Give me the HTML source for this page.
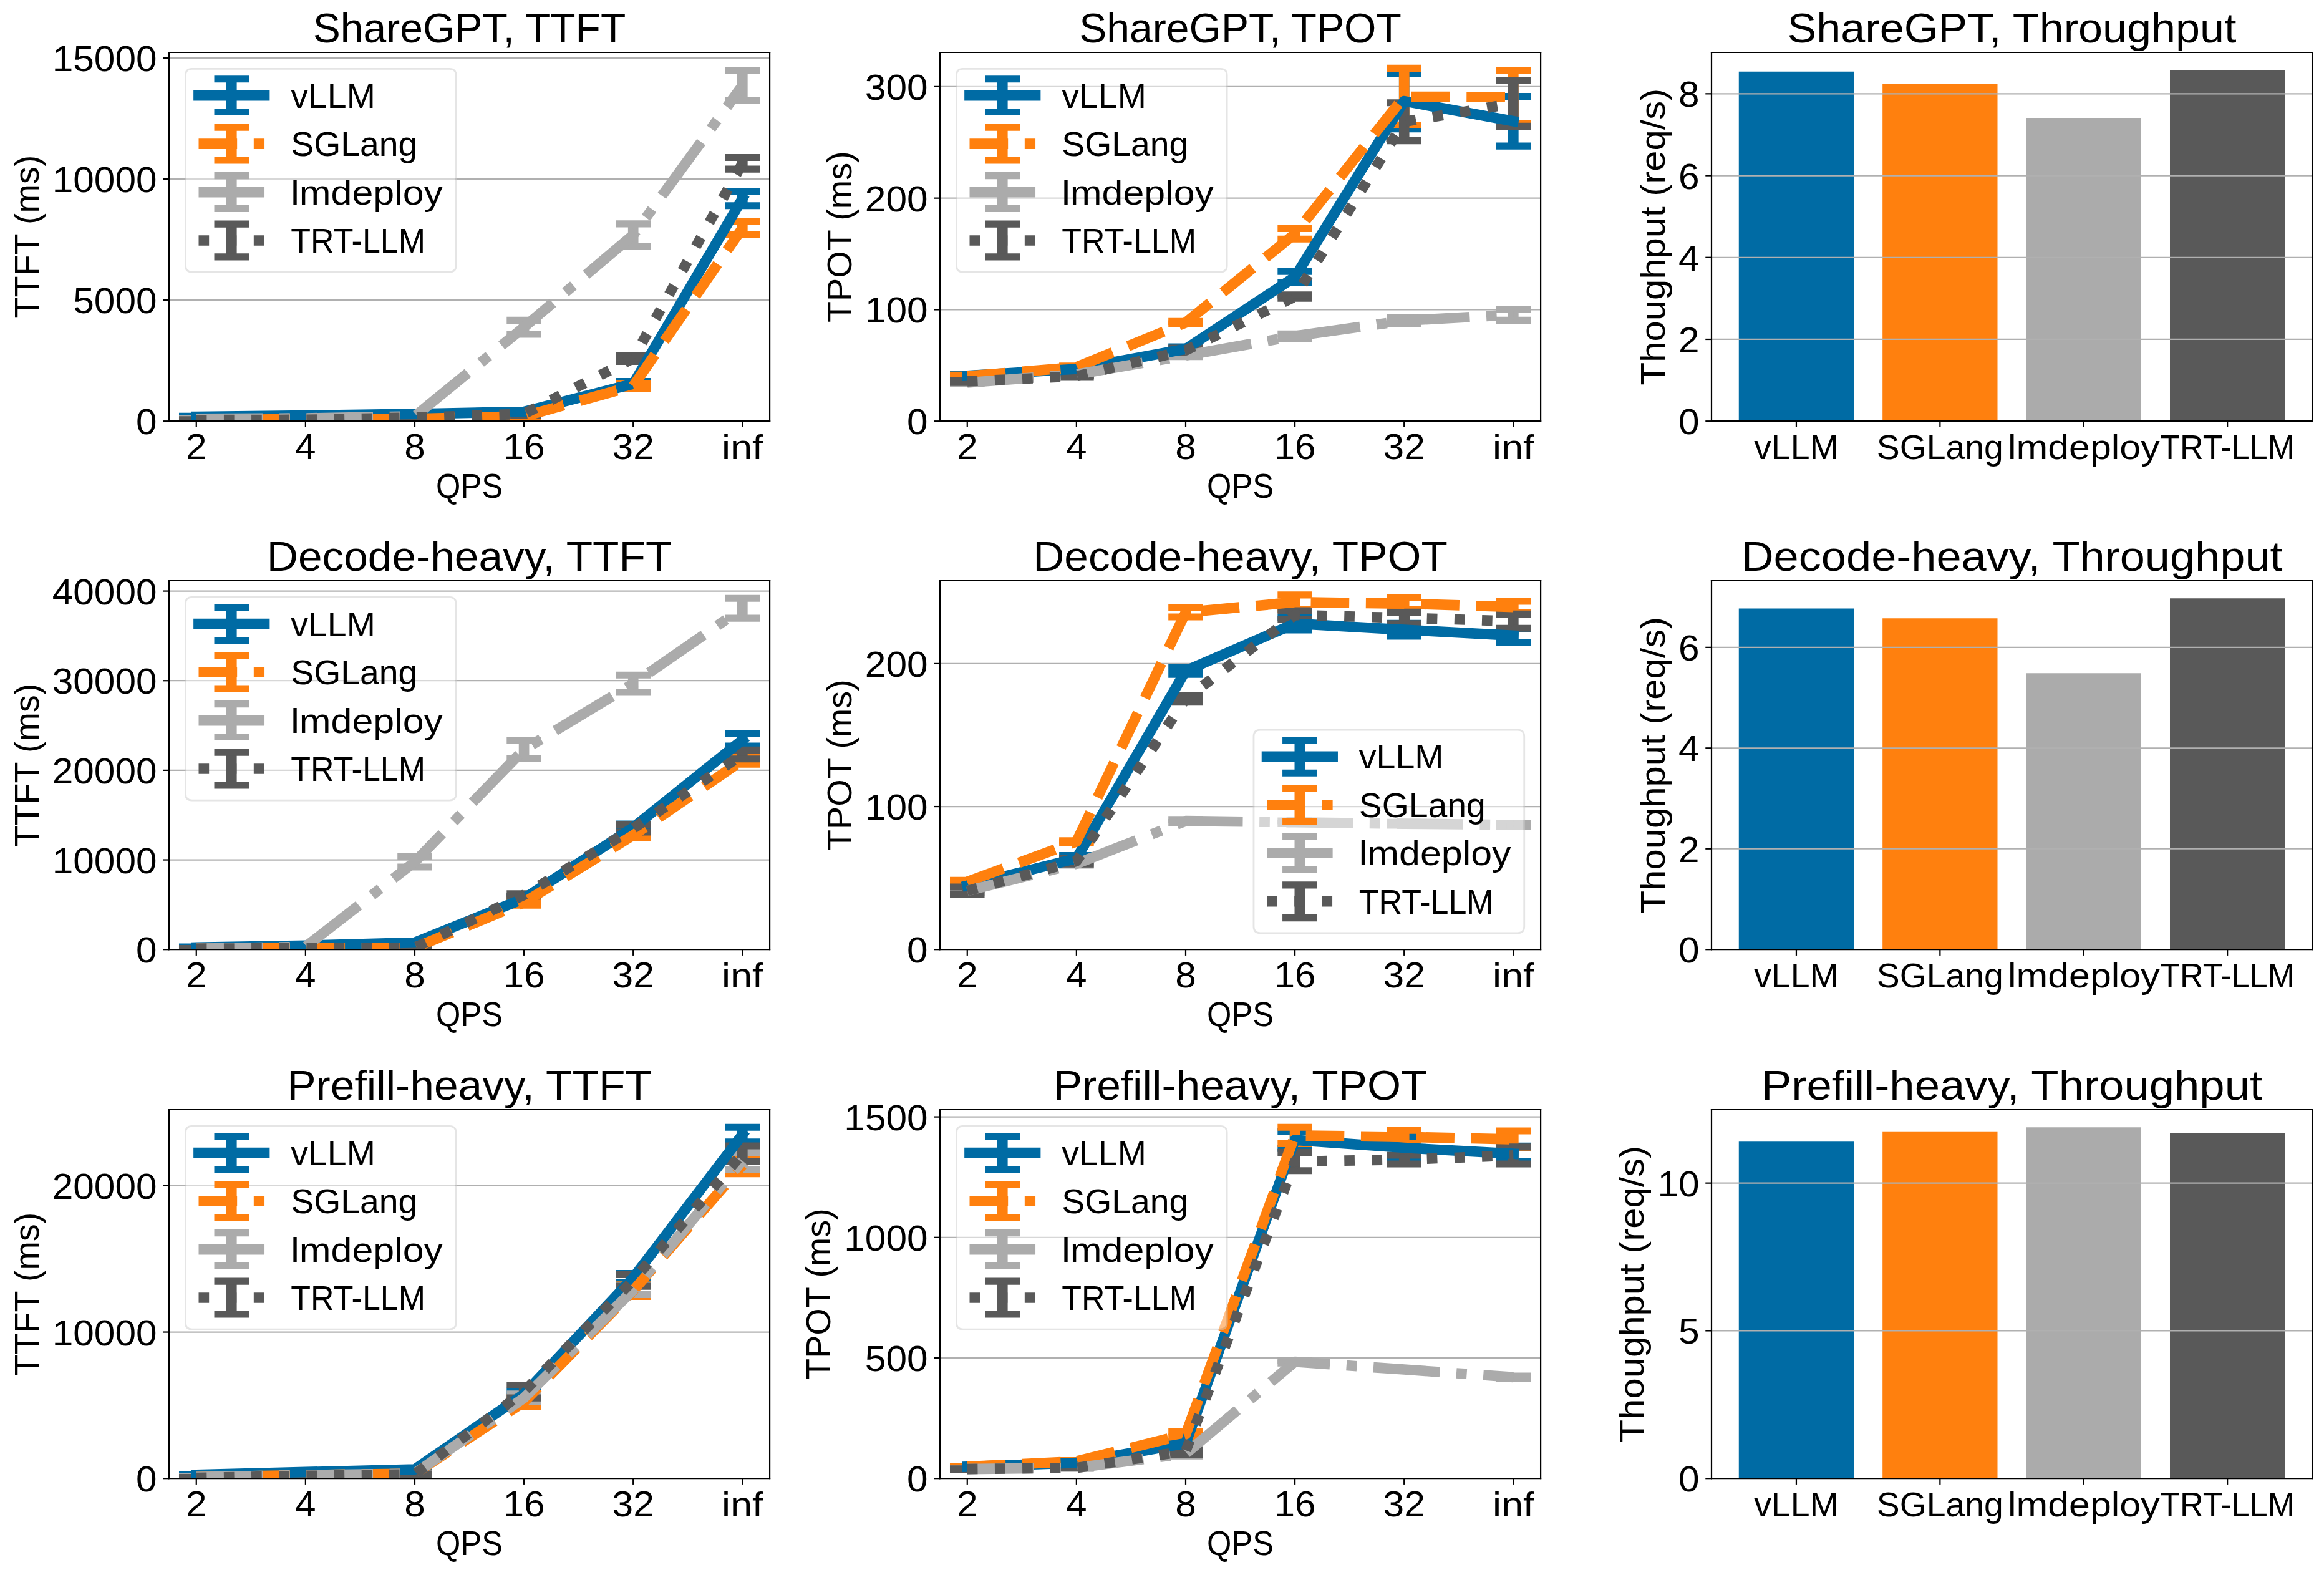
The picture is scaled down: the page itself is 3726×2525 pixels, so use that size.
<!DOCTYPE html>
<html><head><meta charset="utf-8"><title>Benchmark figure</title><style>html,body{margin:0;padding:0;background:#fff;width:3726px;height:2525px;overflow:hidden}svg{display:block}</style></head><body>
<svg width="3726" height="2525" viewBox="0 0 1341.36 909" >
<defs>
<style type="text/css">*{stroke-linejoin: round; stroke-linecap: butt}</style>
</defs>
<g id="figure_1">
<g id="patch_1">
<path d="M 0 909 L 1341.36 909 L 1341.36 0 L 0 0 z
" style="fill: #ffffff"/>
</g>
<g id="axes_1">
<g id="patch_2">
<path d="M 97.56 243.072 L 444.276 243.072 L 444.276 30.24 L 97.56 30.24 z
" style="fill: #ffffff"/>
</g>
<g id="matplotlib.axis_1">
<g id="xtick_1">
<g id="line2d_1">
<defs>
<path id="m877f683ac1" d="M 0 0 L 0 3.5 " style="stroke: #000000; stroke-width: 0.8"/>
</defs>
<g>
<use href="#m877f683ac1" x="113.319818" y="243.072" style="stroke: #000000; stroke-width: 0.8"/>
</g>
</g>
<g id="text_1">
<text style='font-size: 20.710px; font-family: "Liberation Sans", sans-serif; text-anchor: middle' x="113.319818" y="264.8690" transform="rotate(-0 113.319818 264.509031)" textLength="12.088" lengthAdjust="spacingAndGlyphs">2</text>
</g>
</g>
<g id="xtick_2">
<g id="line2d_2">
<g>
<use href="#m877f683ac1" x="176.359091" y="243.072" style="stroke: #000000; stroke-width: 0.8"/>
</g>
</g>
<g id="text_2">
<text style='font-size: 20.710px; font-family: "Liberation Sans", sans-serif; text-anchor: middle' x="176.359091" y="264.8690" transform="rotate(-0 176.359091 264.509031)" textLength="12.088" lengthAdjust="spacingAndGlyphs">4</text>
</g>
</g>
<g id="xtick_3">
<g id="line2d_3">
<g>
<use href="#m877f683ac1" x="239.398364" y="243.072" style="stroke: #000000; stroke-width: 0.8"/>
</g>
</g>
<g id="text_3">
<text style='font-size: 20.710px; font-family: "Liberation Sans", sans-serif; text-anchor: middle' x="239.398364" y="264.8690" transform="rotate(-0 239.398364 264.509031)" textLength="12.088" lengthAdjust="spacingAndGlyphs">8</text>
</g>
</g>
<g id="xtick_4">
<g id="line2d_4">
<g>
<use href="#m877f683ac1" x="302.437636" y="243.072" style="stroke: #000000; stroke-width: 0.8"/>
</g>
</g>
<g id="text_4">
<text style='font-size: 20.710px; font-family: "Liberation Sans", sans-serif; text-anchor: middle' x="302.437636" y="264.8690" transform="rotate(-0 302.437636 264.509031)" textLength="24.176" lengthAdjust="spacingAndGlyphs">16</text>
</g>
</g>
<g id="xtick_5">
<g id="line2d_5">
<g>
<use href="#m877f683ac1" x="365.476909" y="243.072" style="stroke: #000000; stroke-width: 0.8"/>
</g>
</g>
<g id="text_5">
<text style='font-size: 20.710px; font-family: "Liberation Sans", sans-serif; text-anchor: middle' x="365.476909" y="264.8690" transform="rotate(-0 365.476909 264.509031)" textLength="24.176" lengthAdjust="spacingAndGlyphs">32</text>
</g>
</g>
<g id="xtick_6">
<g id="line2d_6">
<g>
<use href="#m877f683ac1" x="428.516182" y="243.072" style="stroke: #000000; stroke-width: 0.8"/>
</g>
</g>
<g id="text_6">
<text style='font-size: 20.140px; font-family: "Liberation Sans", sans-serif; text-anchor: middle' x="428.516182" y="264.8690" transform="rotate(-0 428.516182 264.509031)" textLength="24.008" lengthAdjust="spacingAndGlyphs">inf</text>
</g>
</g>
<g id="text_7">
<text style='font-size: 20.140px; font-family: "Liberation Sans", sans-serif; text-anchor: middle' x="270.918" y="287.2575" transform="rotate(-0 270.918 286.897469)" textLength="38.469" lengthAdjust="spacingAndGlyphs">QPS</text>
</g>
</g>
<g id="matplotlib.axis_2">
<g id="ytick_1">
<g id="line2d_7">
<path d="M 97.56 243.072 L 444.276 243.072 " clip-path="url(#pd88fbe1b18)" style="fill: none; stroke: #b0b0b0; stroke-width: 0.8; stroke-linecap: square"/>
</g>
<g id="line2d_8">
<defs>
<path id="m7abbb79476" d="M 0 0 L -3.5 0 " style="stroke: #000000; stroke-width: 0.8"/>
</defs>
<g>
<use href="#m7abbb79476" x="97.56" y="243.072" style="stroke: #000000; stroke-width: 0.8"/>
</g>
</g>
<g id="text_8">
<text style='font-size: 20.710px; font-family: "Liberation Sans", sans-serif; text-anchor: end' x="90.56" y="250.6505" transform="rotate(-0 90.56 250.290516)" textLength="12.088" lengthAdjust="spacingAndGlyphs">0</text>
</g>
</g>
<g id="ytick_2">
<g id="line2d_9">
<path d="M 97.56 173.208555 L 444.276 173.208555 " clip-path="url(#pd88fbe1b18)" style="fill: none; stroke: #b0b0b0; stroke-width: 0.8; stroke-linecap: square"/>
</g>
<g id="line2d_10">
<g>
<use href="#m7abbb79476" x="97.56" y="173.208555" style="stroke: #000000; stroke-width: 0.8"/>
</g>
</g>
<g id="text_9">
<text style='font-size: 20.710px; font-family: "Liberation Sans", sans-serif; text-anchor: end' x="90.56" y="180.7871" transform="rotate(-0 90.56 180.42707)" textLength="48.347" lengthAdjust="spacingAndGlyphs">5000</text>
</g>
</g>
<g id="ytick_3">
<g id="line2d_11">
<path d="M 97.56 103.345109 L 444.276 103.345109 " clip-path="url(#pd88fbe1b18)" style="fill: none; stroke: #b0b0b0; stroke-width: 0.8; stroke-linecap: square"/>
</g>
<g id="line2d_12">
<g>
<use href="#m7abbb79476" x="97.56" y="103.345109" style="stroke: #000000; stroke-width: 0.8"/>
</g>
</g>
<g id="text_10">
<text style='font-size: 20.710px; font-family: "Liberation Sans", sans-serif; text-anchor: end' x="90.56" y="110.9236" transform="rotate(-0 90.56 110.563625)" textLength="60.429" lengthAdjust="spacingAndGlyphs">10000</text>
</g>
</g>
<g id="ytick_4">
<g id="line2d_13">
<path d="M 97.56 33.481664 L 444.276 33.481664 " clip-path="url(#pd88fbe1b18)" style="fill: none; stroke: #b0b0b0; stroke-width: 0.8; stroke-linecap: square"/>
</g>
<g id="line2d_14">
<g>
<use href="#m7abbb79476" x="97.56" y="33.481664" style="stroke: #000000; stroke-width: 0.8"/>
</g>
</g>
<g id="text_11">
<text style='font-size: 20.710px; font-family: "Liberation Sans", sans-serif; text-anchor: end' x="90.56" y="41.0602" transform="rotate(-0 90.56 40.700179)" textLength="60.429" lengthAdjust="spacingAndGlyphs">15000</text>
</g>
</g>
<g id="text_12">
<text style='font-size: 20.140px; font-family: "Liberation Sans", sans-serif; text-anchor: middle' x="22.164844" y="136.656" transform="rotate(-90 22.164844 136.656)" textLength="94.331" lengthAdjust="spacingAndGlyphs">TTFT (ms)</text>
</g>
</g>
<g id="LineCollection_1">
<path d="M 113.319818 240.766506 L 113.319818 240.207599 " clip-path="url(#pd88fbe1b18)" style="fill: none; stroke: #006ba4; stroke-width: 6"/>
<path d="M 176.359091 240.067872 L 176.359091 239.508964 " clip-path="url(#pd88fbe1b18)" style="fill: none; stroke: #006ba4; stroke-width: 6"/>
<path d="M 239.398364 239.299374 L 239.398364 238.461013 " clip-path="url(#pd88fbe1b18)" style="fill: none; stroke: #006ba4; stroke-width: 6"/>
<path d="M 302.437636 238.321286 L 302.437636 236.924017 " clip-path="url(#pd88fbe1b18)" style="fill: none; stroke: #006ba4; stroke-width: 6"/>
<path d="M 365.476909 222.951328 L 365.476909 220.15679 " clip-path="url(#pd88fbe1b18)" style="fill: none; stroke: #006ba4; stroke-width: 6"/>
<path d="M 428.516182 118.715067 L 428.516182 110.610908 " clip-path="url(#pd88fbe1b18)" style="fill: none; stroke: #006ba4; stroke-width: 6"/>
</g>
<g id="line2d_15">
<defs>
<path id="m3b97e9b83c" d="M 10 0 L -10 -0 " style="stroke: #006ba4; stroke-width: 4"/>
</defs>
<g clip-path="url(#pd88fbe1b18)">
<use href="#m3b97e9b83c" x="113.319818" y="240.766506" style="fill: #006ba4; stroke: #006ba4; stroke-width: 4"/>
<use href="#m3b97e9b83c" x="176.359091" y="240.067872" style="fill: #006ba4; stroke: #006ba4; stroke-width: 4"/>
<use href="#m3b97e9b83c" x="239.398364" y="239.299374" style="fill: #006ba4; stroke: #006ba4; stroke-width: 4"/>
<use href="#m3b97e9b83c" x="302.437636" y="238.321286" style="fill: #006ba4; stroke: #006ba4; stroke-width: 4"/>
<use href="#m3b97e9b83c" x="365.476909" y="222.951328" style="fill: #006ba4; stroke: #006ba4; stroke-width: 4"/>
<use href="#m3b97e9b83c" x="428.516182" y="118.715067" style="fill: #006ba4; stroke: #006ba4; stroke-width: 4"/>
</g>
</g>
<g id="line2d_16">
<g clip-path="url(#pd88fbe1b18)">
<use href="#m3b97e9b83c" x="113.319818" y="240.207599" style="fill: #006ba4; stroke: #006ba4; stroke-width: 4"/>
<use href="#m3b97e9b83c" x="176.359091" y="239.508964" style="fill: #006ba4; stroke: #006ba4; stroke-width: 4"/>
<use href="#m3b97e9b83c" x="239.398364" y="238.461013" style="fill: #006ba4; stroke: #006ba4; stroke-width: 4"/>
<use href="#m3b97e9b83c" x="302.437636" y="236.924017" style="fill: #006ba4; stroke: #006ba4; stroke-width: 4"/>
<use href="#m3b97e9b83c" x="365.476909" y="220.15679" style="fill: #006ba4; stroke: #006ba4; stroke-width: 4"/>
<use href="#m3b97e9b83c" x="428.516182" y="110.610908" style="fill: #006ba4; stroke: #006ba4; stroke-width: 4"/>
</g>
</g>
<g id="LineCollection_2">
<path d="M 113.319818 242.373366 L 113.319818 242.093912 " clip-path="url(#pd88fbe1b18)" style="fill: none; stroke: #ff800e; stroke-width: 6"/>
<path d="M 176.359091 242.093912 L 176.359091 241.814458 " clip-path="url(#pd88fbe1b18)" style="fill: none; stroke: #ff800e; stroke-width: 6"/>
<path d="M 239.398364 241.954185 L 239.398364 241.395277 " clip-path="url(#pd88fbe1b18)" style="fill: none; stroke: #ff800e; stroke-width: 6"/>
<path d="M 302.437636 240.976097 L 302.437636 239.578828 " clip-path="url(#pd88fbe1b18)" style="fill: none; stroke: #ff800e; stroke-width: 6"/>
<path d="M 365.476909 224.20887 L 365.476909 221.414332 " clip-path="url(#pd88fbe1b18)" style="fill: none; stroke: #ff800e; stroke-width: 6"/>
<path d="M 428.516182 135.552158 L 428.516182 127.727452 " clip-path="url(#pd88fbe1b18)" style="fill: none; stroke: #ff800e; stroke-width: 6"/>
</g>
<g id="line2d_17">
<defs>
<path id="m7228e9b4b5" d="M 10 0 L -10 -0 " style="stroke: #ff800e; stroke-width: 4"/>
</defs>
<g clip-path="url(#pd88fbe1b18)">
<use href="#m7228e9b4b5" x="113.319818" y="242.373366" style="fill: #ff800e; stroke: #ff800e; stroke-width: 4"/>
<use href="#m7228e9b4b5" x="176.359091" y="242.093912" style="fill: #ff800e; stroke: #ff800e; stroke-width: 4"/>
<use href="#m7228e9b4b5" x="239.398364" y="241.954185" style="fill: #ff800e; stroke: #ff800e; stroke-width: 4"/>
<use href="#m7228e9b4b5" x="302.437636" y="240.976097" style="fill: #ff800e; stroke: #ff800e; stroke-width: 4"/>
<use href="#m7228e9b4b5" x="365.476909" y="224.20887" style="fill: #ff800e; stroke: #ff800e; stroke-width: 4"/>
<use href="#m7228e9b4b5" x="428.516182" y="135.552158" style="fill: #ff800e; stroke: #ff800e; stroke-width: 4"/>
</g>
</g>
<g id="line2d_18">
<g clip-path="url(#pd88fbe1b18)">
<use href="#m7228e9b4b5" x="113.319818" y="242.093912" style="fill: #ff800e; stroke: #ff800e; stroke-width: 4"/>
<use href="#m7228e9b4b5" x="176.359091" y="241.814458" style="fill: #ff800e; stroke: #ff800e; stroke-width: 4"/>
<use href="#m7228e9b4b5" x="239.398364" y="241.395277" style="fill: #ff800e; stroke: #ff800e; stroke-width: 4"/>
<use href="#m7228e9b4b5" x="302.437636" y="239.578828" style="fill: #ff800e; stroke: #ff800e; stroke-width: 4"/>
<use href="#m7228e9b4b5" x="365.476909" y="221.414332" style="fill: #ff800e; stroke: #ff800e; stroke-width: 4"/>
<use href="#m7228e9b4b5" x="428.516182" y="127.727452" style="fill: #ff800e; stroke: #ff800e; stroke-width: 4"/>
</g>
</g>
<g id="LineCollection_3">
<path d="M 113.319818 241.814458 L 113.319818 241.535004 " clip-path="url(#pd88fbe1b18)" style="fill: none; stroke: #ababab; stroke-width: 6"/>
<path d="M 176.359091 241.535004 L 176.359091 241.25555 " clip-path="url(#pd88fbe1b18)" style="fill: none; stroke: #ababab; stroke-width: 6"/>
<path d="M 239.398364 240.696643 L 239.398364 239.858282 " clip-path="url(#pd88fbe1b18)" style="fill: none; stroke: #ababab; stroke-width: 6"/>
<path d="M 302.437636 192.910046 L 302.437636 184.805887 " clip-path="url(#pd88fbe1b18)" style="fill: none; stroke: #ababab; stroke-width: 6"/>
<path d="M 365.476909 142.049458 L 365.476909 129.194584 " clip-path="url(#pd88fbe1b18)" style="fill: none; stroke: #ababab; stroke-width: 6"/>
<path d="M 428.516182 58.073597 L 428.516182 40.747462 " clip-path="url(#pd88fbe1b18)" style="fill: none; stroke: #ababab; stroke-width: 6"/>
</g>
<g id="line2d_19">
<defs>
<path id="ma094b5fcf0" d="M 10 0 L -10 -0 " style="stroke: #ababab; stroke-width: 4"/>
</defs>
<g clip-path="url(#pd88fbe1b18)">
<use href="#ma094b5fcf0" x="113.319818" y="241.814458" style="fill: #ababab; stroke: #ababab; stroke-width: 4"/>
<use href="#ma094b5fcf0" x="176.359091" y="241.535004" style="fill: #ababab; stroke: #ababab; stroke-width: 4"/>
<use href="#ma094b5fcf0" x="239.398364" y="240.696643" style="fill: #ababab; stroke: #ababab; stroke-width: 4"/>
<use href="#ma094b5fcf0" x="302.437636" y="192.910046" style="fill: #ababab; stroke: #ababab; stroke-width: 4"/>
<use href="#ma094b5fcf0" x="365.476909" y="142.049458" style="fill: #ababab; stroke: #ababab; stroke-width: 4"/>
<use href="#ma094b5fcf0" x="428.516182" y="58.073597" style="fill: #ababab; stroke: #ababab; stroke-width: 4"/>
</g>
</g>
<g id="line2d_20">
<g clip-path="url(#pd88fbe1b18)">
<use href="#ma094b5fcf0" x="113.319818" y="241.535004" style="fill: #ababab; stroke: #ababab; stroke-width: 4"/>
<use href="#ma094b5fcf0" x="176.359091" y="241.25555" style="fill: #ababab; stroke: #ababab; stroke-width: 4"/>
<use href="#ma094b5fcf0" x="239.398364" y="239.858282" style="fill: #ababab; stroke: #ababab; stroke-width: 4"/>
<use href="#ma094b5fcf0" x="302.437636" y="184.805887" style="fill: #ababab; stroke: #ababab; stroke-width: 4"/>
<use href="#ma094b5fcf0" x="365.476909" y="129.194584" style="fill: #ababab; stroke: #ababab; stroke-width: 4"/>
<use href="#ma094b5fcf0" x="428.516182" y="40.747462" style="fill: #ababab; stroke: #ababab; stroke-width: 4"/>
</g>
</g>
<g id="LineCollection_4">
<path d="M 113.319818 242.513092 L 113.319818 242.233639 " clip-path="url(#pd88fbe1b18)" style="fill: none; stroke: #595959; stroke-width: 6"/>
<path d="M 176.359091 242.373366 L 176.359091 242.093912 " clip-path="url(#pd88fbe1b18)" style="fill: none; stroke: #595959; stroke-width: 6"/>
<path d="M 239.398364 241.115824 L 239.398364 240.83637 " clip-path="url(#pd88fbe1b18)" style="fill: none; stroke: #595959; stroke-width: 6"/>
<path d="M 302.437636 239.578828 L 302.437636 238.181559 " clip-path="url(#pd88fbe1b18)" style="fill: none; stroke: #595959; stroke-width: 6"/>
<path d="M 365.476909 208.559458 L 365.476909 205.206013 " clip-path="url(#pd88fbe1b18)" style="fill: none; stroke: #595959; stroke-width: 6"/>
<path d="M 428.516182 97.616307 L 428.516182 90.909416 " clip-path="url(#pd88fbe1b18)" style="fill: none; stroke: #595959; stroke-width: 6"/>
</g>
<g id="line2d_21">
<defs>
<path id="mc23e0b839d" d="M 10 0 L -10 -0 " style="stroke: #595959; stroke-width: 4"/>
</defs>
<g clip-path="url(#pd88fbe1b18)">
<use href="#mc23e0b839d" x="113.319818" y="242.513092" style="fill: #595959; stroke: #595959; stroke-width: 4"/>
<use href="#mc23e0b839d" x="176.359091" y="242.373366" style="fill: #595959; stroke: #595959; stroke-width: 4"/>
<use href="#mc23e0b839d" x="239.398364" y="241.115824" style="fill: #595959; stroke: #595959; stroke-width: 4"/>
<use href="#mc23e0b839d" x="302.437636" y="239.578828" style="fill: #595959; stroke: #595959; stroke-width: 4"/>
<use href="#mc23e0b839d" x="365.476909" y="208.559458" style="fill: #595959; stroke: #595959; stroke-width: 4"/>
<use href="#mc23e0b839d" x="428.516182" y="97.616307" style="fill: #595959; stroke: #595959; stroke-width: 4"/>
</g>
</g>
<g id="line2d_22">
<g clip-path="url(#pd88fbe1b18)">
<use href="#mc23e0b839d" x="113.319818" y="242.233639" style="fill: #595959; stroke: #595959; stroke-width: 4"/>
<use href="#mc23e0b839d" x="176.359091" y="242.093912" style="fill: #595959; stroke: #595959; stroke-width: 4"/>
<use href="#mc23e0b839d" x="239.398364" y="240.83637" style="fill: #595959; stroke: #595959; stroke-width: 4"/>
<use href="#mc23e0b839d" x="302.437636" y="238.181559" style="fill: #595959; stroke: #595959; stroke-width: 4"/>
<use href="#mc23e0b839d" x="365.476909" y="205.206013" style="fill: #595959; stroke: #595959; stroke-width: 4"/>
<use href="#mc23e0b839d" x="428.516182" y="90.909416" style="fill: #595959; stroke: #595959; stroke-width: 4"/>
</g>
</g>
<g id="line2d_23">
<path d="M 113.319818 240.487053 L 176.359091 239.788418 L 239.398364 238.880193 L 302.437636 237.622651 L 365.476909 221.554059 L 428.516182 114.662987 " clip-path="url(#pd88fbe1b18)" style="fill: none; stroke: #006ba4; stroke-width: 6; stroke-linecap: square"/>
</g>
<g id="line2d_24">
<path d="M 113.319818 242.233639 L 176.359091 241.954185 L 239.398364 241.674731 L 302.437636 240.277462 L 365.476909 222.811601 L 428.516182 131.639805 " clip-path="url(#pd88fbe1b18)" style="fill: none; stroke-dasharray: 22.2,9.6; stroke-dashoffset: 0; stroke: #ff800e; stroke-width: 6"/>
</g>
<g id="line2d_25">
<path d="M 113.319818 241.674731 L 176.359091 241.395277 L 239.398364 240.277462 L 302.437636 188.857966 L 365.476909 135.622021 L 428.516182 49.410529 " clip-path="url(#pd88fbe1b18)" style="fill: none; stroke-dasharray: 38.4,9.6,6,9.6; stroke-dashoffset: 0; stroke: #ababab; stroke-width: 6"/>
</g>
<g id="line2d_26">
<path d="M 113.319818 242.373366 L 176.359091 242.233639 L 239.398364 240.976097 L 302.437636 238.880193 L 365.476909 206.882735 L 428.516182 94.262861 " clip-path="url(#pd88fbe1b18)" style="fill: none; stroke-dasharray: 6,9.9; stroke-dashoffset: 0; stroke: #595959; stroke-width: 6"/>
</g>
<g id="patch_3">
<path d="M 97.56 243.072 L 97.56 30.24 " style="fill: none; stroke: #000000; stroke-width: 0.8; stroke-linejoin: miter; stroke-linecap: square"/>
</g>
<g id="patch_4">
<path d="M 444.276 243.072 L 444.276 30.24 " style="fill: none; stroke: #000000; stroke-width: 0.8; stroke-linejoin: miter; stroke-linecap: square"/>
</g>
<g id="patch_5">
<path d="M 97.56 243.072 L 444.276 243.072 " style="fill: none; stroke: #000000; stroke-width: 0.8; stroke-linejoin: miter; stroke-linecap: square"/>
</g>
<g id="patch_6">
<path d="M 97.56 30.24 L 444.276 30.24 " style="fill: none; stroke: #000000; stroke-width: 0.8; stroke-linejoin: miter; stroke-linecap: square"/>
</g>
<g id="text_13">
<text style='font-size: 24.274px; font-family: "Liberation Sans", sans-serif; text-anchor: middle' x="270.918" y="24.6000" transform="rotate(-0 270.918 24.24)" textLength="180.512" lengthAdjust="spacingAndGlyphs">ShareGPT, TTFT</text>
</g>
<g id="legend_1">
<g id="patch_7">
<path d="M 110.86 156.99375 L 259.410312 156.99375 Q 263.210312 156.99375 263.210312 153.19375 L 263.210312 43.54 Q 263.210312 39.74 259.410312 39.74 L 110.86 39.74 Q 107.06 39.74 107.06 43.54 L 107.06 153.19375 Q 107.06 156.99375 110.86 156.99375 z
" style="fill: #ffffff; opacity: 0.5; stroke: #cccccc; stroke-linejoin: miter"/>
</g>
<g id="LineCollection_5">
<path d="M 133.66 64.627031 L 133.66 45.627031 " style="fill: none; stroke: #006ba4; stroke-width: 6"/>
</g>
<g id="line2d_27">
<g>
<use href="#m3b97e9b83c" x="133.66" y="64.627031" style="fill: #006ba4; stroke: #006ba4; stroke-width: 4"/>
</g>
</g>
<g id="line2d_28">
<g>
<use href="#m3b97e9b83c" x="133.66" y="45.627031" style="fill: #006ba4; stroke: #006ba4; stroke-width: 4"/>
</g>
</g>
<g id="line2d_29">
<path d="M 114.66 55.127031 L 152.66 55.127031 " style="fill: none; stroke: #006ba4; stroke-width: 6; stroke-linecap: square"/>
</g>
<g id="line2d_30"/>
<g id="text_14">
<text style='font-size: 20.140px; font-family: "Liberation Sans", sans-serif; text-anchor: start' x="167.86" y="62.1370" transform="rotate(-0 167.86 61.777031)" textLength="48.797" lengthAdjust="spacingAndGlyphs">vLLM</text>
</g>
<g id="LineCollection_6">
<path d="M 133.66 92.515469 L 133.66 73.515469 " style="fill: none; stroke: #ff800e; stroke-width: 6"/>
</g>
<g id="line2d_31">
<g>
<use href="#m7228e9b4b5" x="133.66" y="92.515469" style="fill: #ff800e; stroke: #ff800e; stroke-width: 4"/>
</g>
</g>
<g id="line2d_32">
<g>
<use href="#m7228e9b4b5" x="133.66" y="73.515469" style="fill: #ff800e; stroke: #ff800e; stroke-width: 4"/>
</g>
</g>
<g id="line2d_33">
<path d="M 114.66 83.015469 L 152.66 83.015469 " style="fill: none; stroke-dasharray: 22.2,9.6; stroke-dashoffset: 0; stroke: #ff800e; stroke-width: 6"/>
</g>
<g id="line2d_34"/>
<g id="text_15">
<text style='font-size: 20.140px; font-family: "Liberation Sans", sans-serif; text-anchor: start' x="167.86" y="90.0255" transform="rotate(-0 167.86 89.665469)" textLength="73.103" lengthAdjust="spacingAndGlyphs">SGLang</text>
</g>
<g id="LineCollection_7">
<path d="M 133.66 120.403906 L 133.66 101.403906 " style="fill: none; stroke: #ababab; stroke-width: 6"/>
</g>
<g id="line2d_35">
<g>
<use href="#ma094b5fcf0" x="133.66" y="120.403906" style="fill: #ababab; stroke: #ababab; stroke-width: 4"/>
</g>
</g>
<g id="line2d_36">
<g>
<use href="#ma094b5fcf0" x="133.66" y="101.403906" style="fill: #ababab; stroke: #ababab; stroke-width: 4"/>
</g>
</g>
<g id="line2d_37">
<path d="M 114.66 110.903906 L 152.66 110.903906 " style="fill: none; stroke-dasharray: 38.4,9.6,6,9.6; stroke-dashoffset: 0; stroke: #ababab; stroke-width: 6"/>
</g>
<g id="line2d_38"/>
<g id="text_16">
<text style='font-size: 20.140px; font-family: "Liberation Sans", sans-serif; text-anchor: start' x="167.86" y="117.9139" transform="rotate(-0 167.86 117.553906)" textLength="87.728" lengthAdjust="spacingAndGlyphs">lmdeploy</text>
</g>
<g id="LineCollection_8">
<path d="M 133.66 148.292344 L 133.66 129.292344 " style="fill: none; stroke: #595959; stroke-width: 6"/>
</g>
<g id="line2d_39">
<g>
<use href="#mc23e0b839d" x="133.66" y="148.292344" style="fill: #595959; stroke: #595959; stroke-width: 4"/>
</g>
</g>
<g id="line2d_40">
<g>
<use href="#mc23e0b839d" x="133.66" y="129.292344" style="fill: #595959; stroke: #595959; stroke-width: 4"/>
</g>
</g>
<g id="line2d_41">
<path d="M 114.66 138.792344 L 152.66 138.792344 " style="fill: none; stroke-dasharray: 6,9.9; stroke-dashoffset: 0; stroke: #595959; stroke-width: 6"/>
</g>
<g id="line2d_42"/>
<g id="text_17">
<text style='font-size: 20.140px; font-family: "Liberation Sans", sans-serif; text-anchor: start' x="167.86" y="145.8023" transform="rotate(-0 167.86 145.442344)" textLength="77.693" lengthAdjust="spacingAndGlyphs">TRT-LLM</text>
</g>
</g>
</g>
<g id="axes_2">
<g id="patch_8">
<path d="M 542.52 243.072 L 889.236 243.072 L 889.236 30.24 L 542.52 30.24 z
" style="fill: #ffffff"/>
</g>
<g id="matplotlib.axis_3">
<g id="xtick_7">
<g id="line2d_43">
<g>
<use href="#m877f683ac1" x="558.279818" y="243.072" style="stroke: #000000; stroke-width: 0.8"/>
</g>
</g>
<g id="text_18">
<text style='font-size: 20.710px; font-family: "Liberation Sans", sans-serif; text-anchor: middle' x="558.279818" y="264.8690" transform="rotate(-0 558.279818 264.509031)" textLength="12.088" lengthAdjust="spacingAndGlyphs">2</text>
</g>
</g>
<g id="xtick_8">
<g id="line2d_44">
<g>
<use href="#m877f683ac1" x="621.319091" y="243.072" style="stroke: #000000; stroke-width: 0.8"/>
</g>
</g>
<g id="text_19">
<text style='font-size: 20.710px; font-family: "Liberation Sans", sans-serif; text-anchor: middle' x="621.319091" y="264.8690" transform="rotate(-0 621.319091 264.509031)" textLength="12.088" lengthAdjust="spacingAndGlyphs">4</text>
</g>
</g>
<g id="xtick_9">
<g id="line2d_45">
<g>
<use href="#m877f683ac1" x="684.358364" y="243.072" style="stroke: #000000; stroke-width: 0.8"/>
</g>
</g>
<g id="text_20">
<text style='font-size: 20.710px; font-family: "Liberation Sans", sans-serif; text-anchor: middle' x="684.358364" y="264.8690" transform="rotate(-0 684.358364 264.509031)" textLength="12.088" lengthAdjust="spacingAndGlyphs">8</text>
</g>
</g>
<g id="xtick_10">
<g id="line2d_46">
<g>
<use href="#m877f683ac1" x="747.397636" y="243.072" style="stroke: #000000; stroke-width: 0.8"/>
</g>
</g>
<g id="text_21">
<text style='font-size: 20.710px; font-family: "Liberation Sans", sans-serif; text-anchor: middle' x="747.397636" y="264.8690" transform="rotate(-0 747.397636 264.509031)" textLength="24.176" lengthAdjust="spacingAndGlyphs">16</text>
</g>
</g>
<g id="xtick_11">
<g id="line2d_47">
<g>
<use href="#m877f683ac1" x="810.436909" y="243.072" style="stroke: #000000; stroke-width: 0.8"/>
</g>
</g>
<g id="text_22">
<text style='font-size: 20.710px; font-family: "Liberation Sans", sans-serif; text-anchor: middle' x="810.436909" y="264.8690" transform="rotate(-0 810.436909 264.509031)" textLength="24.176" lengthAdjust="spacingAndGlyphs">32</text>
</g>
</g>
<g id="xtick_12">
<g id="line2d_48">
<g>
<use href="#m877f683ac1" x="873.476182" y="243.072" style="stroke: #000000; stroke-width: 0.8"/>
</g>
</g>
<g id="text_23">
<text style='font-size: 20.140px; font-family: "Liberation Sans", sans-serif; text-anchor: middle' x="873.476182" y="264.8690" transform="rotate(-0 873.476182 264.509031)" textLength="24.008" lengthAdjust="spacingAndGlyphs">inf</text>
</g>
</g>
<g id="text_24">
<text style='font-size: 20.140px; font-family: "Liberation Sans", sans-serif; text-anchor: middle' x="715.878" y="287.2575" transform="rotate(-0 715.878 286.897469)" textLength="38.469" lengthAdjust="spacingAndGlyphs">QPS</text>
</g>
</g>
<g id="matplotlib.axis_4">
<g id="ytick_5">
<g id="line2d_49">
<path d="M 542.52 243.072 L 889.236 243.072 " clip-path="url(#pf4002ff233)" style="fill: none; stroke: #b0b0b0; stroke-width: 0.8; stroke-linecap: square"/>
</g>
<g id="line2d_50">
<g>
<use href="#m7abbb79476" x="542.52" y="243.072" style="stroke: #000000; stroke-width: 0.8"/>
</g>
</g>
<g id="text_25">
<text style='font-size: 20.710px; font-family: "Liberation Sans", sans-serif; text-anchor: end' x="535.52" y="250.6505" transform="rotate(-0 535.52 250.290516)" textLength="12.088" lengthAdjust="spacingAndGlyphs">0</text>
</g>
</g>
<g id="ytick_6">
<g id="line2d_51">
<path d="M 542.52 178.713972 L 889.236 178.713972 " clip-path="url(#pf4002ff233)" style="fill: none; stroke: #b0b0b0; stroke-width: 0.8; stroke-linecap: square"/>
</g>
<g id="line2d_52">
<g>
<use href="#m7abbb79476" x="542.52" y="178.713972" style="stroke: #000000; stroke-width: 0.8"/>
</g>
</g>
<g id="text_26">
<text style='font-size: 20.710px; font-family: "Liberation Sans", sans-serif; text-anchor: end' x="535.52" y="186.2925" transform="rotate(-0 535.52 185.932487)" textLength="36.259" lengthAdjust="spacingAndGlyphs">100</text>
</g>
</g>
<g id="ytick_7">
<g id="line2d_53">
<path d="M 542.52 114.355943 L 889.236 114.355943 " clip-path="url(#pf4002ff233)" style="fill: none; stroke: #b0b0b0; stroke-width: 0.8; stroke-linecap: square"/>
</g>
<g id="line2d_54">
<g>
<use href="#m7abbb79476" x="542.52" y="114.355943" style="stroke: #000000; stroke-width: 0.8"/>
</g>
</g>
<g id="text_27">
<text style='font-size: 20.710px; font-family: "Liberation Sans", sans-serif; text-anchor: end' x="535.52" y="121.9345" transform="rotate(-0 535.52 121.574459)" textLength="36.259" lengthAdjust="spacingAndGlyphs">200</text>
</g>
</g>
<g id="ytick_8">
<g id="line2d_55">
<path d="M 542.52 49.997915 L 889.236 49.997915 " clip-path="url(#pf4002ff233)" style="fill: none; stroke: #b0b0b0; stroke-width: 0.8; stroke-linecap: square"/>
</g>
<g id="line2d_56">
<g>
<use href="#m7abbb79476" x="542.52" y="49.997915" style="stroke: #000000; stroke-width: 0.8"/>
</g>
</g>
<g id="text_28">
<text style='font-size: 20.710px; font-family: "Liberation Sans", sans-serif; text-anchor: end' x="535.52" y="57.5764" transform="rotate(-0 535.52 57.21643)" textLength="36.259" lengthAdjust="spacingAndGlyphs">300</text>
</g>
</g>
<g id="text_29">
<text style='font-size: 20.140px; font-family: "Liberation Sans", sans-serif; text-anchor: middle' x="491.302344" y="136.656" transform="rotate(-90 491.302344 136.656)" textLength="98.876" lengthAdjust="spacingAndGlyphs">TPOT (ms)</text>
</g>
</g>
<g id="LineCollection_9">
<path d="M 558.279818 217.457505 L 558.279818 216.170344 " clip-path="url(#pf4002ff233)" style="fill: none; stroke: #006ba4; stroke-width: 6"/>
<path d="M 621.319091 213.596023 L 621.319091 212.308862 " clip-path="url(#pf4002ff233)" style="fill: none; stroke: #006ba4; stroke-width: 6"/>
<path d="M 684.358364 202.719516 L 684.358364 200.145195 " clip-path="url(#pf4002ff233)" style="fill: none; stroke: #006ba4; stroke-width: 6"/>
<path d="M 747.397636 163.074971 L 747.397636 156.639168 " clip-path="url(#pf4002ff233)" style="fill: none; stroke: #006ba4; stroke-width: 6"/>
<path d="M 810.436909 74.453966 L 810.436909 42.274951 " clip-path="url(#pf4002ff233)" style="fill: none; stroke: #006ba4; stroke-width: 6"/>
<path d="M 873.476182 84.300744 L 873.476182 55.597063 " clip-path="url(#pf4002ff233)" style="fill: none; stroke: #006ba4; stroke-width: 6"/>
</g>
<g id="line2d_57">
<g clip-path="url(#pf4002ff233)">
<use href="#m3b97e9b83c" x="558.279818" y="217.457505" style="fill: #006ba4; stroke: #006ba4; stroke-width: 4"/>
<use href="#m3b97e9b83c" x="621.319091" y="213.596023" style="fill: #006ba4; stroke: #006ba4; stroke-width: 4"/>
<use href="#m3b97e9b83c" x="684.358364" y="202.719516" style="fill: #006ba4; stroke: #006ba4; stroke-width: 4"/>
<use href="#m3b97e9b83c" x="747.397636" y="163.074971" style="fill: #006ba4; stroke: #006ba4; stroke-width: 4"/>
<use href="#m3b97e9b83c" x="810.436909" y="74.453966" style="fill: #006ba4; stroke: #006ba4; stroke-width: 4"/>
<use href="#m3b97e9b83c" x="873.476182" y="84.300744" style="fill: #006ba4; stroke: #006ba4; stroke-width: 4"/>
</g>
</g>
<g id="line2d_58">
<g clip-path="url(#pf4002ff233)">
<use href="#m3b97e9b83c" x="558.279818" y="216.170344" style="fill: #006ba4; stroke: #006ba4; stroke-width: 4"/>
<use href="#m3b97e9b83c" x="621.319091" y="212.308862" style="fill: #006ba4; stroke: #006ba4; stroke-width: 4"/>
<use href="#m3b97e9b83c" x="684.358364" y="200.145195" style="fill: #006ba4; stroke: #006ba4; stroke-width: 4"/>
<use href="#m3b97e9b83c" x="747.397636" y="156.639168" style="fill: #006ba4; stroke: #006ba4; stroke-width: 4"/>
<use href="#m3b97e9b83c" x="810.436909" y="42.274951" style="fill: #006ba4; stroke: #006ba4; stroke-width: 4"/>
<use href="#m3b97e9b83c" x="873.476182" y="55.597063" style="fill: #006ba4; stroke: #006ba4; stroke-width: 4"/>
</g>
</g>
<g id="LineCollection_10">
<path d="M 558.279818 217.779295 L 558.279818 216.492134 " clip-path="url(#pf4002ff233)" style="fill: none; stroke: #ff800e; stroke-width: 6"/>
<path d="M 621.319091 212.566295 L 621.319091 211.279134 " clip-path="url(#pf4002ff233)" style="fill: none; stroke: #ff800e; stroke-width: 6"/>
<path d="M 684.358364 186.823083 L 684.358364 185.535923 " clip-path="url(#pf4002ff233)" style="fill: none; stroke: #ff800e; stroke-width: 6"/>
<path d="M 747.397636 137.97534 L 747.397636 131.925685 " clip-path="url(#pf4002ff233)" style="fill: none; stroke: #ff800e; stroke-width: 6"/>
<path d="M 810.436909 72.201435 L 810.436909 39.37884 " clip-path="url(#pf4002ff233)" style="fill: none; stroke: #ff800e; stroke-width: 6"/>
<path d="M 873.476182 71.429138 L 873.476182 40.537285 " clip-path="url(#pf4002ff233)" style="fill: none; stroke: #ff800e; stroke-width: 6"/>
</g>
<g id="line2d_59">
<g clip-path="url(#pf4002ff233)">
<use href="#m7228e9b4b5" x="558.279818" y="217.779295" style="fill: #ff800e; stroke: #ff800e; stroke-width: 4"/>
<use href="#m7228e9b4b5" x="621.319091" y="212.566295" style="fill: #ff800e; stroke: #ff800e; stroke-width: 4"/>
<use href="#m7228e9b4b5" x="684.358364" y="186.823083" style="fill: #ff800e; stroke: #ff800e; stroke-width: 4"/>
<use href="#m7228e9b4b5" x="747.397636" y="137.97534" style="fill: #ff800e; stroke: #ff800e; stroke-width: 4"/>
<use href="#m7228e9b4b5" x="810.436909" y="72.201435" style="fill: #ff800e; stroke: #ff800e; stroke-width: 4"/>
<use href="#m7228e9b4b5" x="873.476182" y="71.429138" style="fill: #ff800e; stroke: #ff800e; stroke-width: 4"/>
</g>
</g>
<g id="line2d_60">
<g clip-path="url(#pf4002ff233)">
<use href="#m7228e9b4b5" x="558.279818" y="216.492134" style="fill: #ff800e; stroke: #ff800e; stroke-width: 4"/>
<use href="#m7228e9b4b5" x="621.319091" y="211.279134" style="fill: #ff800e; stroke: #ff800e; stroke-width: 4"/>
<use href="#m7228e9b4b5" x="684.358364" y="185.535923" style="fill: #ff800e; stroke: #ff800e; stroke-width: 4"/>
<use href="#m7228e9b4b5" x="747.397636" y="131.925685" style="fill: #ff800e; stroke: #ff800e; stroke-width: 4"/>
<use href="#m7228e9b4b5" x="810.436909" y="39.37884" style="fill: #ff800e; stroke: #ff800e; stroke-width: 4"/>
<use href="#m7228e9b4b5" x="873.476182" y="40.537285" style="fill: #ff800e; stroke: #ff800e; stroke-width: 4"/>
</g>
</g>
<g id="LineCollection_11">
<path d="M 558.279818 221.51206 L 558.279818 220.2249 " clip-path="url(#pf4002ff233)" style="fill: none; stroke: #ababab; stroke-width: 6"/>
<path d="M 621.319091 216.685208 L 621.319091 215.398048 " clip-path="url(#pf4002ff233)" style="fill: none; stroke: #ababab; stroke-width: 6"/>
<path d="M 684.358364 205.808702 L 684.358364 204.521541 " clip-path="url(#pf4002ff233)" style="fill: none; stroke: #ababab; stroke-width: 6"/>
<path d="M 747.397636 195.253985 L 747.397636 192.679664 " clip-path="url(#pf4002ff233)" style="fill: none; stroke: #ababab; stroke-width: 6"/>
<path d="M 810.436909 186.951799 L 810.436909 183.090318 " clip-path="url(#pf4002ff233)" style="fill: none; stroke: #ababab; stroke-width: 6"/>
<path d="M 873.476182 184.827984 L 873.476182 178.392181 " clip-path="url(#pf4002ff233)" style="fill: none; stroke: #ababab; stroke-width: 6"/>
</g>
<g id="line2d_61">
<g clip-path="url(#pf4002ff233)">
<use href="#ma094b5fcf0" x="558.279818" y="221.51206" style="fill: #ababab; stroke: #ababab; stroke-width: 4"/>
<use href="#ma094b5fcf0" x="621.319091" y="216.685208" style="fill: #ababab; stroke: #ababab; stroke-width: 4"/>
<use href="#ma094b5fcf0" x="684.358364" y="205.808702" style="fill: #ababab; stroke: #ababab; stroke-width: 4"/>
<use href="#ma094b5fcf0" x="747.397636" y="195.253985" style="fill: #ababab; stroke: #ababab; stroke-width: 4"/>
<use href="#ma094b5fcf0" x="810.436909" y="186.951799" style="fill: #ababab; stroke: #ababab; stroke-width: 4"/>
<use href="#ma094b5fcf0" x="873.476182" y="184.827984" style="fill: #ababab; stroke: #ababab; stroke-width: 4"/>
</g>
</g>
<g id="line2d_62">
<g clip-path="url(#pf4002ff233)">
<use href="#ma094b5fcf0" x="558.279818" y="220.2249" style="fill: #ababab; stroke: #ababab; stroke-width: 4"/>
<use href="#ma094b5fcf0" x="621.319091" y="215.398048" style="fill: #ababab; stroke: #ababab; stroke-width: 4"/>
<use href="#ma094b5fcf0" x="684.358364" y="204.521541" style="fill: #ababab; stroke: #ababab; stroke-width: 4"/>
<use href="#ma094b5fcf0" x="747.397636" y="192.679664" style="fill: #ababab; stroke: #ababab; stroke-width: 4"/>
<use href="#ma094b5fcf0" x="810.436909" y="183.090318" style="fill: #ababab; stroke: #ababab; stroke-width: 4"/>
<use href="#ma094b5fcf0" x="873.476182" y="178.392181" style="fill: #ababab; stroke: #ababab; stroke-width: 4"/>
</g>
</g>
<g id="LineCollection_12">
<path d="M 558.279818 220.739764 L 558.279818 219.452604 " clip-path="url(#pf4002ff233)" style="fill: none; stroke: #595959; stroke-width: 6"/>
<path d="M 621.319091 217.779295 L 621.319091 216.492134 " clip-path="url(#pf4002ff233)" style="fill: none; stroke: #595959; stroke-width: 6"/>
<path d="M 684.358364 203.491813 L 684.358364 200.917491 " clip-path="url(#pf4002ff233)" style="fill: none; stroke: #595959; stroke-width: 6"/>
<path d="M 747.397636 172.149453 L 747.397636 170.218712 " clip-path="url(#pf4002ff233)" style="fill: none; stroke: #595959; stroke-width: 6"/>
<path d="M 810.436909 81.211559 L 810.436909 59.329829 " clip-path="url(#pf4002ff233)" style="fill: none; stroke: #595959; stroke-width: 6"/>
<path d="M 873.476182 72.845015 L 873.476182 46.458223 " clip-path="url(#pf4002ff233)" style="fill: none; stroke: #595959; stroke-width: 6"/>
</g>
<g id="line2d_63">
<g clip-path="url(#pf4002ff233)">
<use href="#mc23e0b839d" x="558.279818" y="220.739764" style="fill: #595959; stroke: #595959; stroke-width: 4"/>
<use href="#mc23e0b839d" x="621.319091" y="217.779295" style="fill: #595959; stroke: #595959; stroke-width: 4"/>
<use href="#mc23e0b839d" x="684.358364" y="203.491813" style="fill: #595959; stroke: #595959; stroke-width: 4"/>
<use href="#mc23e0b839d" x="747.397636" y="172.149453" style="fill: #595959; stroke: #595959; stroke-width: 4"/>
<use href="#mc23e0b839d" x="810.436909" y="81.211559" style="fill: #595959; stroke: #595959; stroke-width: 4"/>
<use href="#mc23e0b839d" x="873.476182" y="72.845015" style="fill: #595959; stroke: #595959; stroke-width: 4"/>
</g>
</g>
<g id="line2d_64">
<g clip-path="url(#pf4002ff233)">
<use href="#mc23e0b839d" x="558.279818" y="219.452604" style="fill: #595959; stroke: #595959; stroke-width: 4"/>
<use href="#mc23e0b839d" x="621.319091" y="216.492134" style="fill: #595959; stroke: #595959; stroke-width: 4"/>
<use href="#mc23e0b839d" x="684.358364" y="200.917491" style="fill: #595959; stroke: #595959; stroke-width: 4"/>
<use href="#mc23e0b839d" x="747.397636" y="170.218712" style="fill: #595959; stroke: #595959; stroke-width: 4"/>
<use href="#mc23e0b839d" x="810.436909" y="59.329829" style="fill: #595959; stroke: #595959; stroke-width: 4"/>
<use href="#mc23e0b839d" x="873.476182" y="46.458223" style="fill: #595959; stroke: #595959; stroke-width: 4"/>
</g>
</g>
<g id="line2d_65">
<path d="M 558.279818 216.813924 L 621.319091 212.952443 L 684.358364 201.432356 L 747.397636 159.857069 L 810.436909 58.364458 L 873.476182 69.948904 " clip-path="url(#pf4002ff233)" style="fill: none; stroke: #006ba4; stroke-width: 6; stroke-linecap: square"/>
</g>
<g id="line2d_66">
<path d="M 558.279818 217.135715 L 621.319091 211.922714 L 684.358364 186.179503 L 747.397636 134.950512 L 810.436909 55.790137 L 873.476182 55.983211 " clip-path="url(#pf4002ff233)" style="fill: none; stroke-dasharray: 22.2,9.6; stroke-dashoffset: 0; stroke: #ff800e; stroke-width: 6"/>
</g>
<g id="line2d_67">
<path d="M 558.279818 220.86848 L 621.319091 216.041628 L 684.358364 205.165121 L 747.397636 193.966824 L 810.436909 185.021058 L 873.476182 181.610083 " clip-path="url(#pf4002ff233)" style="fill: none; stroke-dasharray: 38.4,9.6,6,9.6; stroke-dashoffset: 0; stroke: #ababab; stroke-width: 6"/>
</g>
<g id="line2d_68">
<path d="M 558.279818 220.096184 L 621.319091 217.135715 L 684.358364 202.204652 L 747.397636 171.184082 L 810.436909 70.270694 L 873.476182 59.651619 " clip-path="url(#pf4002ff233)" style="fill: none; stroke-dasharray: 6,9.9; stroke-dashoffset: 0; stroke: #595959; stroke-width: 6"/>
</g>
<g id="patch_9">
<path d="M 542.52 243.072 L 542.52 30.24 " style="fill: none; stroke: #000000; stroke-width: 0.8; stroke-linejoin: miter; stroke-linecap: square"/>
</g>
<g id="patch_10">
<path d="M 889.236 243.072 L 889.236 30.24 " style="fill: none; stroke: #000000; stroke-width: 0.8; stroke-linejoin: miter; stroke-linecap: square"/>
</g>
<g id="patch_11">
<path d="M 542.52 243.072 L 889.236 243.072 " style="fill: none; stroke: #000000; stroke-width: 0.8; stroke-linejoin: miter; stroke-linecap: square"/>
</g>
<g id="patch_12">
<path d="M 542.52 30.24 L 889.236 30.24 " style="fill: none; stroke: #000000; stroke-width: 0.8; stroke-linejoin: miter; stroke-linecap: square"/>
</g>
<g id="text_30">
<text style='font-size: 24.274px; font-family: "Liberation Sans", sans-serif; text-anchor: middle' x="715.878" y="24.6000" transform="rotate(-0 715.878 24.24)" textLength="185.991" lengthAdjust="spacingAndGlyphs">ShareGPT, TPOT</text>
</g>
<g id="legend_2">
<g id="patch_13">
<path d="M 555.82 156.99375 L 704.370313 156.99375 Q 708.170313 156.99375 708.170313 153.19375 L 708.170313 43.54 Q 708.170313 39.74 704.370313 39.74 L 555.82 39.74 Q 552.02 39.74 552.02 43.54 L 552.02 153.19375 Q 552.02 156.99375 555.82 156.99375 z
" style="fill: #ffffff; opacity: 0.5; stroke: #cccccc; stroke-linejoin: miter"/>
</g>
<g id="LineCollection_13">
<path d="M 578.62 64.627031 L 578.62 45.627031 " style="fill: none; stroke: #006ba4; stroke-width: 6"/>
</g>
<g id="line2d_69">
<g>
<use href="#m3b97e9b83c" x="578.62" y="64.627031" style="fill: #006ba4; stroke: #006ba4; stroke-width: 4"/>
</g>
</g>
<g id="line2d_70">
<g>
<use href="#m3b97e9b83c" x="578.62" y="45.627031" style="fill: #006ba4; stroke: #006ba4; stroke-width: 4"/>
</g>
</g>
<g id="line2d_71">
<path d="M 559.62 55.127031 L 597.62 55.127031 " style="fill: none; stroke: #006ba4; stroke-width: 6; stroke-linecap: square"/>
</g>
<g id="line2d_72"/>
<g id="text_31">
<text style='font-size: 20.140px; font-family: "Liberation Sans", sans-serif; text-anchor: start' x="612.82" y="62.1370" transform="rotate(-0 612.82 61.777031)" textLength="48.797" lengthAdjust="spacingAndGlyphs">vLLM</text>
</g>
<g id="LineCollection_14">
<path d="M 578.62 92.515469 L 578.62 73.515469 " style="fill: none; stroke: #ff800e; stroke-width: 6"/>
</g>
<g id="line2d_73">
<g>
<use href="#m7228e9b4b5" x="578.62" y="92.515469" style="fill: #ff800e; stroke: #ff800e; stroke-width: 4"/>
</g>
</g>
<g id="line2d_74">
<g>
<use href="#m7228e9b4b5" x="578.62" y="73.515469" style="fill: #ff800e; stroke: #ff800e; stroke-width: 4"/>
</g>
</g>
<g id="line2d_75">
<path d="M 559.62 83.015469 L 597.62 83.015469 " style="fill: none; stroke-dasharray: 22.2,9.6; stroke-dashoffset: 0; stroke: #ff800e; stroke-width: 6"/>
</g>
<g id="line2d_76"/>
<g id="text_32">
<text style='font-size: 20.140px; font-family: "Liberation Sans", sans-serif; text-anchor: start' x="612.82" y="90.0255" transform="rotate(-0 612.82 89.665469)" textLength="73.103" lengthAdjust="spacingAndGlyphs">SGLang</text>
</g>
<g id="LineCollection_15">
<path d="M 578.62 120.403906 L 578.62 101.403906 " style="fill: none; stroke: #ababab; stroke-width: 6"/>
</g>
<g id="line2d_77">
<g>
<use href="#ma094b5fcf0" x="578.62" y="120.403906" style="fill: #ababab; stroke: #ababab; stroke-width: 4"/>
</g>
</g>
<g id="line2d_78">
<g>
<use href="#ma094b5fcf0" x="578.62" y="101.403906" style="fill: #ababab; stroke: #ababab; stroke-width: 4"/>
</g>
</g>
<g id="line2d_79">
<path d="M 559.62 110.903906 L 597.62 110.903906 " style="fill: none; stroke-dasharray: 38.4,9.6,6,9.6; stroke-dashoffset: 0; stroke: #ababab; stroke-width: 6"/>
</g>
<g id="line2d_80"/>
<g id="text_33">
<text style='font-size: 20.140px; font-family: "Liberation Sans", sans-serif; text-anchor: start' x="612.82" y="117.9139" transform="rotate(-0 612.82 117.553906)" textLength="87.728" lengthAdjust="spacingAndGlyphs">lmdeploy</text>
</g>
<g id="LineCollection_16">
<path d="M 578.62 148.292344 L 578.62 129.292344 " style="fill: none; stroke: #595959; stroke-width: 6"/>
</g>
<g id="line2d_81">
<g>
<use href="#mc23e0b839d" x="578.62" y="148.292344" style="fill: #595959; stroke: #595959; stroke-width: 4"/>
</g>
</g>
<g id="line2d_82">
<g>
<use href="#mc23e0b839d" x="578.62" y="129.292344" style="fill: #595959; stroke: #595959; stroke-width: 4"/>
</g>
</g>
<g id="line2d_83">
<path d="M 559.62 138.792344 L 597.62 138.792344 " style="fill: none; stroke-dasharray: 6,9.9; stroke-dashoffset: 0; stroke: #595959; stroke-width: 6"/>
</g>
<g id="line2d_84"/>
<g id="text_34">
<text style='font-size: 20.140px; font-family: "Liberation Sans", sans-serif; text-anchor: start' x="612.82" y="145.8023" transform="rotate(-0 612.82 145.442344)" textLength="77.693" lengthAdjust="spacingAndGlyphs">TRT-LLM</text>
</g>
</g>
</g>
<g id="axes_3">
<g id="patch_14">
<path d="M 987.84 243.072 L 1334.556 243.072 L 1334.556 30.24 L 987.84 30.24 z
" style="fill: #ffffff"/>
</g>
<g id="patch_15">
<path d="M 1003.599818 243.072 L 1069.956947 243.072 L 1069.956947 41.272374 L 1003.599818 41.272374 z
" clip-path="url(#p49dfbb74af)" style="fill: #006ba4"/>
</g>
<g id="patch_16">
<path d="M 1086.54623 243.072 L 1152.903359 243.072 L 1152.903359 48.570605 L 1086.54623 48.570605 z
" clip-path="url(#p49dfbb74af)" style="fill: #ff800e"/>
</g>
<g id="patch_17">
<path d="M 1169.492641 243.072 L 1235.84977 243.072 L 1235.84977 68.056173 L 1169.492641 68.056173 z
" clip-path="url(#p49dfbb74af)" style="fill: #ababab"/>
</g>
<g id="patch_18">
<path d="M 1252.439053 243.072 L 1318.796182 243.072 L 1318.796182 40.374857 L 1252.439053 40.374857 z
" clip-path="url(#p49dfbb74af)" style="fill: #595959"/>
</g>
<g id="matplotlib.axis_5">
<g id="xtick_13">
<g id="line2d_85">
<g>
<use href="#m877f683ac1" x="1036.778383" y="243.072" style="stroke: #000000; stroke-width: 0.8"/>
</g>
</g>
<g id="text_35">
<text style='font-size: 20.140px; font-family: "Liberation Sans", sans-serif; text-anchor: middle' x="1036.778383" y="264.8690" transform="rotate(-0 1036.778383 264.509031)" textLength="48.797" lengthAdjust="spacingAndGlyphs">vLLM</text>
</g>
</g>
<g id="xtick_14">
<g id="line2d_86">
<g>
<use href="#m877f683ac1" x="1119.724794" y="243.072" style="stroke: #000000; stroke-width: 0.8"/>
</g>
</g>
<g id="text_36">
<text style='font-size: 20.140px; font-family: "Liberation Sans", sans-serif; text-anchor: middle' x="1119.724794" y="264.8690" transform="rotate(-0 1119.724794 264.509031)" textLength="73.103" lengthAdjust="spacingAndGlyphs">SGLang</text>
</g>
</g>
<g id="xtick_15">
<g id="line2d_87">
<g>
<use href="#m877f683ac1" x="1202.671206" y="243.072" style="stroke: #000000; stroke-width: 0.8"/>
</g>
</g>
<g id="text_37">
<text style='font-size: 20.140px; font-family: "Liberation Sans", sans-serif; text-anchor: middle' x="1202.671206" y="264.8690" transform="rotate(-0 1202.671206 264.509031)" textLength="87.728" lengthAdjust="spacingAndGlyphs">lmdeploy</text>
</g>
</g>
<g id="xtick_16">
<g id="line2d_88">
<g>
<use href="#m877f683ac1" x="1285.617617" y="243.072" style="stroke: #000000; stroke-width: 0.8"/>
</g>
</g>
<g id="text_38">
<text style='font-size: 20.140px; font-family: "Liberation Sans", sans-serif; text-anchor: middle' x="1285.617617" y="264.8690" transform="rotate(-0 1285.617617 264.509031)" textLength="77.693" lengthAdjust="spacingAndGlyphs">TRT-LLM</text>
</g>
</g>
</g>
<g id="matplotlib.axis_6">
<g id="ytick_9">
<g id="line2d_89">
<path d="M 987.84 243.072 L 1334.556 243.072 " clip-path="url(#p49dfbb74af)" style="fill: none; stroke: #b0b0b0; stroke-width: 0.8; stroke-linecap: square"/>
</g>
<g id="line2d_90">
<g>
<use href="#m7abbb79476" x="987.84" y="243.072" style="stroke: #000000; stroke-width: 0.8"/>
</g>
</g>
<g id="text_39">
<text style='font-size: 20.710px; font-family: "Liberation Sans", sans-serif; text-anchor: end' x="980.84" y="250.6505" transform="rotate(-0 980.84 250.290516)" textLength="12.088" lengthAdjust="spacingAndGlyphs">0</text>
</g>
</g>
<g id="ytick_10">
<g id="line2d_91">
<path d="M 987.84 195.83426 L 1334.556 195.83426 " clip-path="url(#p49dfbb74af)" style="fill: none; stroke: #b0b0b0; stroke-width: 0.8; stroke-linecap: square"/>
</g>
<g id="line2d_92">
<g>
<use href="#m7abbb79476" x="987.84" y="195.83426" style="stroke: #000000; stroke-width: 0.8"/>
</g>
</g>
<g id="text_40">
<text style='font-size: 20.710px; font-family: "Liberation Sans", sans-serif; text-anchor: end' x="980.84" y="203.4128" transform="rotate(-0 980.84 203.052776)" textLength="12.088" lengthAdjust="spacingAndGlyphs">2</text>
</g>
</g>
<g id="ytick_11">
<g id="line2d_93">
<path d="M 987.84 148.59652 L 1334.556 148.59652 " clip-path="url(#p49dfbb74af)" style="fill: none; stroke: #b0b0b0; stroke-width: 0.8; stroke-linecap: square"/>
</g>
<g id="line2d_94">
<g>
<use href="#m7abbb79476" x="987.84" y="148.59652" style="stroke: #000000; stroke-width: 0.8"/>
</g>
</g>
<g id="text_41">
<text style='font-size: 20.710px; font-family: "Liberation Sans", sans-serif; text-anchor: end' x="980.84" y="156.1750" transform="rotate(-0 980.84 155.815035)" textLength="12.088" lengthAdjust="spacingAndGlyphs">4</text>
</g>
</g>
<g id="ytick_12">
<g id="line2d_95">
<path d="M 987.84 101.35878 L 1334.556 101.35878 " clip-path="url(#p49dfbb74af)" style="fill: none; stroke: #b0b0b0; stroke-width: 0.8; stroke-linecap: square"/>
</g>
<g id="line2d_96">
<g>
<use href="#m7abbb79476" x="987.84" y="101.35878" style="stroke: #000000; stroke-width: 0.8"/>
</g>
</g>
<g id="text_42">
<text style='font-size: 20.710px; font-family: "Liberation Sans", sans-serif; text-anchor: end' x="980.84" y="108.9373" transform="rotate(-0 980.84 108.577295)" textLength="12.088" lengthAdjust="spacingAndGlyphs">6</text>
</g>
</g>
<g id="ytick_13">
<g id="line2d_97">
<path d="M 987.84 54.12104 L 1334.556 54.12104 " clip-path="url(#p49dfbb74af)" style="fill: none; stroke: #b0b0b0; stroke-width: 0.8; stroke-linecap: square"/>
</g>
<g id="line2d_98">
<g>
<use href="#m7abbb79476" x="987.84" y="54.12104" style="stroke: #000000; stroke-width: 0.8"/>
</g>
</g>
<g id="text_43">
<text style='font-size: 20.710px; font-family: "Liberation Sans", sans-serif; text-anchor: end' x="980.84" y="61.6996" transform="rotate(-0 980.84 61.339555)" textLength="12.088" lengthAdjust="spacingAndGlyphs">8</text>
</g>
</g>
<g id="text_44">
<text style='font-size: 20.140px; font-family: "Liberation Sans", sans-serif; text-anchor: middle' x="960.799844" y="136.656" transform="rotate(-90 960.799844 136.656)" textLength="171.242" lengthAdjust="spacingAndGlyphs">Thoughput (req/s)</text>
</g>
</g>
<g id="patch_19">
<path d="M 987.84 243.072 L 987.84 30.24 " style="fill: none; stroke: #000000; stroke-width: 0.8; stroke-linejoin: miter; stroke-linecap: square"/>
</g>
<g id="patch_20">
<path d="M 1334.556 243.072 L 1334.556 30.24 " style="fill: none; stroke: #000000; stroke-width: 0.8; stroke-linejoin: miter; stroke-linecap: square"/>
</g>
<g id="patch_21">
<path d="M 987.84 243.072 L 1334.556 243.072 " style="fill: none; stroke: #000000; stroke-width: 0.8; stroke-linejoin: miter; stroke-linecap: square"/>
</g>
<g id="patch_22">
<path d="M 987.84 30.24 L 1334.556 30.24 " style="fill: none; stroke: #000000; stroke-width: 0.8; stroke-linejoin: miter; stroke-linecap: square"/>
</g>
<g id="text_45">
<text style='font-size: 24.274px; font-family: "Liberation Sans", sans-serif; text-anchor: middle' x="1161.198" y="24.6000" transform="rotate(-0 1161.198 24.24)" textLength="259.200" lengthAdjust="spacingAndGlyphs">ShareGPT, Throughput</text>
</g>
</g>
<g id="axes_4">
<g id="patch_23">
<path d="M 97.56 547.992 L 444.276 547.992 L 444.276 335.16 L 97.56 335.16 z
" style="fill: #ffffff"/>
</g>
<g id="matplotlib.axis_7">
<g id="xtick_17">
<g id="line2d_99">
<g>
<use href="#m877f683ac1" x="113.319818" y="547.992" style="stroke: #000000; stroke-width: 0.8"/>
</g>
</g>
<g id="text_46">
<text style='font-size: 20.710px; font-family: "Liberation Sans", sans-serif; text-anchor: middle' x="113.319818" y="569.7890" transform="rotate(-0 113.319818 569.429031)" textLength="12.088" lengthAdjust="spacingAndGlyphs">2</text>
</g>
</g>
<g id="xtick_18">
<g id="line2d_100">
<g>
<use href="#m877f683ac1" x="176.359091" y="547.992" style="stroke: #000000; stroke-width: 0.8"/>
</g>
</g>
<g id="text_47">
<text style='font-size: 20.710px; font-family: "Liberation Sans", sans-serif; text-anchor: middle' x="176.359091" y="569.7890" transform="rotate(-0 176.359091 569.429031)" textLength="12.088" lengthAdjust="spacingAndGlyphs">4</text>
</g>
</g>
<g id="xtick_19">
<g id="line2d_101">
<g>
<use href="#m877f683ac1" x="239.398364" y="547.992" style="stroke: #000000; stroke-width: 0.8"/>
</g>
</g>
<g id="text_48">
<text style='font-size: 20.710px; font-family: "Liberation Sans", sans-serif; text-anchor: middle' x="239.398364" y="569.7890" transform="rotate(-0 239.398364 569.429031)" textLength="12.088" lengthAdjust="spacingAndGlyphs">8</text>
</g>
</g>
<g id="xtick_20">
<g id="line2d_102">
<g>
<use href="#m877f683ac1" x="302.437636" y="547.992" style="stroke: #000000; stroke-width: 0.8"/>
</g>
</g>
<g id="text_49">
<text style='font-size: 20.710px; font-family: "Liberation Sans", sans-serif; text-anchor: middle' x="302.437636" y="569.7890" transform="rotate(-0 302.437636 569.429031)" textLength="24.176" lengthAdjust="spacingAndGlyphs">16</text>
</g>
</g>
<g id="xtick_21">
<g id="line2d_103">
<g>
<use href="#m877f683ac1" x="365.476909" y="547.992" style="stroke: #000000; stroke-width: 0.8"/>
</g>
</g>
<g id="text_50">
<text style='font-size: 20.710px; font-family: "Liberation Sans", sans-serif; text-anchor: middle' x="365.476909" y="569.7890" transform="rotate(-0 365.476909 569.429031)" textLength="24.176" lengthAdjust="spacingAndGlyphs">32</text>
</g>
</g>
<g id="xtick_22">
<g id="line2d_104">
<g>
<use href="#m877f683ac1" x="428.516182" y="547.992" style="stroke: #000000; stroke-width: 0.8"/>
</g>
</g>
<g id="text_51">
<text style='font-size: 20.140px; font-family: "Liberation Sans", sans-serif; text-anchor: middle' x="428.516182" y="569.7890" transform="rotate(-0 428.516182 569.429031)" textLength="24.008" lengthAdjust="spacingAndGlyphs">inf</text>
</g>
</g>
<g id="text_52">
<text style='font-size: 20.140px; font-family: "Liberation Sans", sans-serif; text-anchor: middle' x="270.918" y="592.1775" transform="rotate(-0 270.918 591.817469)" textLength="38.469" lengthAdjust="spacingAndGlyphs">QPS</text>
</g>
</g>
<g id="matplotlib.axis_8">
<g id="ytick_14">
<g id="line2d_105">
<path d="M 97.56 547.992 L 444.276 547.992 " clip-path="url(#p72ff483b01)" style="fill: none; stroke: #b0b0b0; stroke-width: 0.8; stroke-linecap: square"/>
</g>
<g id="line2d_106">
<g>
<use href="#m7abbb79476" x="97.56" y="547.992" style="stroke: #000000; stroke-width: 0.8"/>
</g>
</g>
<g id="text_53">
<text style='font-size: 20.710px; font-family: "Liberation Sans", sans-serif; text-anchor: end' x="90.56" y="555.5705" transform="rotate(-0 90.56 555.210516)" textLength="12.088" lengthAdjust="spacingAndGlyphs">0</text>
</g>
</g>
<g id="ytick_15">
<g id="line2d_107">
<path d="M 97.56 496.276006 L 444.276 496.276006 " clip-path="url(#p72ff483b01)" style="fill: none; stroke: #b0b0b0; stroke-width: 0.8; stroke-linecap: square"/>
</g>
<g id="line2d_108">
<g>
<use href="#m7abbb79476" x="97.56" y="496.276006" style="stroke: #000000; stroke-width: 0.8"/>
</g>
</g>
<g id="text_54">
<text style='font-size: 20.710px; font-family: "Liberation Sans", sans-serif; text-anchor: end' x="90.56" y="503.8545" transform="rotate(-0 90.56 503.494522)" textLength="60.429" lengthAdjust="spacingAndGlyphs">10000</text>
</g>
</g>
<g id="ytick_16">
<g id="line2d_109">
<path d="M 97.56 444.560013 L 444.276 444.560013 " clip-path="url(#p72ff483b01)" style="fill: none; stroke: #b0b0b0; stroke-width: 0.8; stroke-linecap: square"/>
</g>
<g id="line2d_110">
<g>
<use href="#m7abbb79476" x="97.56" y="444.560013" style="stroke: #000000; stroke-width: 0.8"/>
</g>
</g>
<g id="text_55">
<text style='font-size: 20.710px; font-family: "Liberation Sans", sans-serif; text-anchor: end' x="90.56" y="452.1385" transform="rotate(-0 90.56 451.778528)" textLength="60.429" lengthAdjust="spacingAndGlyphs">20000</text>
</g>
</g>
<g id="ytick_17">
<g id="line2d_111">
<path d="M 97.56 392.844019 L 444.276 392.844019 " clip-path="url(#p72ff483b01)" style="fill: none; stroke: #b0b0b0; stroke-width: 0.8; stroke-linecap: square"/>
</g>
<g id="line2d_112">
<g>
<use href="#m7abbb79476" x="97.56" y="392.844019" style="stroke: #000000; stroke-width: 0.8"/>
</g>
</g>
<g id="text_56">
<text style='font-size: 20.710px; font-family: "Liberation Sans", sans-serif; text-anchor: end' x="90.56" y="400.4225" transform="rotate(-0 90.56 400.062535)" textLength="60.429" lengthAdjust="spacingAndGlyphs">30000</text>
</g>
</g>
<g id="ytick_18">
<g id="line2d_113">
<path d="M 97.56 341.128026 L 444.276 341.128026 " clip-path="url(#p72ff483b01)" style="fill: none; stroke: #b0b0b0; stroke-width: 0.8; stroke-linecap: square"/>
</g>
<g id="line2d_114">
<g>
<use href="#m7abbb79476" x="97.56" y="341.128026" style="stroke: #000000; stroke-width: 0.8"/>
</g>
</g>
<g id="text_57">
<text style='font-size: 20.710px; font-family: "Liberation Sans", sans-serif; text-anchor: end' x="90.56" y="348.7065" transform="rotate(-0 90.56 348.346541)" textLength="60.429" lengthAdjust="spacingAndGlyphs">40000</text>
</g>
</g>
<g id="text_58">
<text style='font-size: 20.140px; font-family: "Liberation Sans", sans-serif; text-anchor: middle' x="22.164844" y="441.576" transform="rotate(-90 22.164844 441.576)" textLength="94.331" lengthAdjust="spacingAndGlyphs">TTFT (ms)</text>
</g>
</g>
<g id="LineCollection_17">
<path d="M 113.319818 547.061112 L 113.319818 546.543952 " clip-path="url(#p72ff483b01)" style="fill: none; stroke: #006ba4; stroke-width: 6"/>
<path d="M 176.359091 545.975076 L 176.359091 545.457916 " clip-path="url(#p72ff483b01)" style="fill: none; stroke: #006ba4; stroke-width: 6"/>
<path d="M 239.398364 544.24259 L 239.398364 543.725431 " clip-path="url(#p72ff483b01)" style="fill: none; stroke: #006ba4; stroke-width: 6"/>
<path d="M 302.437636 519.651636 L 302.437636 517.582996 " clip-path="url(#p72ff483b01)" style="fill: none; stroke: #006ba4; stroke-width: 6"/>
<path d="M 365.476909 479.675172 L 365.476909 475.537893 " clip-path="url(#p72ff483b01)" style="fill: none; stroke: #006ba4; stroke-width: 6"/>
<path d="M 428.516182 430.596695 L 428.516182 423.459887 " clip-path="url(#p72ff483b01)" style="fill: none; stroke: #006ba4; stroke-width: 6"/>
</g>
<g id="line2d_115">
<g clip-path="url(#p72ff483b01)">
<use href="#m3b97e9b83c" x="113.319818" y="547.061112" style="fill: #006ba4; stroke: #006ba4; stroke-width: 4"/>
<use href="#m3b97e9b83c" x="176.359091" y="545.975076" style="fill: #006ba4; stroke: #006ba4; stroke-width: 4"/>
<use href="#m3b97e9b83c" x="239.398364" y="544.24259" style="fill: #006ba4; stroke: #006ba4; stroke-width: 4"/>
<use href="#m3b97e9b83c" x="302.437636" y="519.651636" style="fill: #006ba4; stroke: #006ba4; stroke-width: 4"/>
<use href="#m3b97e9b83c" x="365.476909" y="479.675172" style="fill: #006ba4; stroke: #006ba4; stroke-width: 4"/>
<use href="#m3b97e9b83c" x="428.516182" y="430.596695" style="fill: #006ba4; stroke: #006ba4; stroke-width: 4"/>
</g>
</g>
<g id="line2d_116">
<g clip-path="url(#p72ff483b01)">
<use href="#m3b97e9b83c" x="113.319818" y="546.543952" style="fill: #006ba4; stroke: #006ba4; stroke-width: 4"/>
<use href="#m3b97e9b83c" x="176.359091" y="545.457916" style="fill: #006ba4; stroke: #006ba4; stroke-width: 4"/>
<use href="#m3b97e9b83c" x="239.398364" y="543.725431" style="fill: #006ba4; stroke: #006ba4; stroke-width: 4"/>
<use href="#m3b97e9b83c" x="302.437636" y="517.582996" style="fill: #006ba4; stroke: #006ba4; stroke-width: 4"/>
<use href="#m3b97e9b83c" x="365.476909" y="475.537893" style="fill: #006ba4; stroke: #006ba4; stroke-width: 4"/>
<use href="#m3b97e9b83c" x="428.516182" y="423.459887" style="fill: #006ba4; stroke: #006ba4; stroke-width: 4"/>
</g>
</g>
<g id="LineCollection_18">
<path d="M 113.319818 547.578272 L 113.319818 547.371408 " clip-path="url(#p72ff483b01)" style="fill: none; stroke: #ff800e; stroke-width: 6"/>
<path d="M 176.359091 547.319692 L 176.359091 547.112828 " clip-path="url(#p72ff483b01)" style="fill: none; stroke: #ff800e; stroke-width: 6"/>
<path d="M 239.398364 547.061112 L 239.398364 546.854248 " clip-path="url(#p72ff483b01)" style="fill: none; stroke: #ff800e; stroke-width: 6"/>
<path d="M 302.437636 522.392583 L 302.437636 519.289624 " clip-path="url(#p72ff483b01)" style="fill: none; stroke: #ff800e; stroke-width: 6"/>
<path d="M 365.476909 483.605588 L 365.476909 480.502628 " clip-path="url(#p72ff483b01)" style="fill: none; stroke: #ff800e; stroke-width: 6"/>
<path d="M 428.516182 441.043325 L 428.516182 436.59575 " clip-path="url(#p72ff483b01)" style="fill: none; stroke: #ff800e; stroke-width: 6"/>
</g>
<g id="line2d_117">
<g clip-path="url(#p72ff483b01)">
<use href="#m7228e9b4b5" x="113.319818" y="547.578272" style="fill: #ff800e; stroke: #ff800e; stroke-width: 4"/>
<use href="#m7228e9b4b5" x="176.359091" y="547.319692" style="fill: #ff800e; stroke: #ff800e; stroke-width: 4"/>
<use href="#m7228e9b4b5" x="239.398364" y="547.061112" style="fill: #ff800e; stroke: #ff800e; stroke-width: 4"/>
<use href="#m7228e9b4b5" x="302.437636" y="522.392583" style="fill: #ff800e; stroke: #ff800e; stroke-width: 4"/>
<use href="#m7228e9b4b5" x="365.476909" y="483.605588" style="fill: #ff800e; stroke: #ff800e; stroke-width: 4"/>
<use href="#m7228e9b4b5" x="428.516182" y="441.043325" style="fill: #ff800e; stroke: #ff800e; stroke-width: 4"/>
</g>
</g>
<g id="line2d_118">
<g clip-path="url(#p72ff483b01)">
<use href="#m7228e9b4b5" x="113.319818" y="547.371408" style="fill: #ff800e; stroke: #ff800e; stroke-width: 4"/>
<use href="#m7228e9b4b5" x="176.359091" y="547.112828" style="fill: #ff800e; stroke: #ff800e; stroke-width: 4"/>
<use href="#m7228e9b4b5" x="239.398364" y="546.854248" style="fill: #ff800e; stroke: #ff800e; stroke-width: 4"/>
<use href="#m7228e9b4b5" x="302.437636" y="519.289624" style="fill: #ff800e; stroke: #ff800e; stroke-width: 4"/>
<use href="#m7228e9b4b5" x="365.476909" y="480.502628" style="fill: #ff800e; stroke: #ff800e; stroke-width: 4"/>
<use href="#m7228e9b4b5" x="428.516182" y="436.59575" style="fill: #ff800e; stroke: #ff800e; stroke-width: 4"/>
</g>
</g>
<g id="LineCollection_19">
<path d="M 113.319818 547.526556 L 113.319818 547.423124 " clip-path="url(#p72ff483b01)" style="fill: none; stroke: #ababab; stroke-width: 6"/>
<path d="M 176.359091 546.6991 L 176.359091 546.18194 " clip-path="url(#p72ff483b01)" style="fill: none; stroke: #ababab; stroke-width: 6"/>
<path d="M 239.398364 500.413286 L 239.398364 494.414231 " clip-path="url(#p72ff483b01)" style="fill: none; stroke: #ababab; stroke-width: 6"/>
<path d="M 302.437636 437.785218 L 302.437636 427.338587 " clip-path="url(#p72ff483b01)" style="fill: none; stroke: #ababab; stroke-width: 6"/>
<path d="M 365.476909 399.592956 L 365.476909 389.61177 " clip-path="url(#p72ff483b01)" style="fill: none; stroke: #ababab; stroke-width: 6"/>
<path d="M 428.516182 356.797972 L 428.516182 345.317021 " clip-path="url(#p72ff483b01)" style="fill: none; stroke: #ababab; stroke-width: 6"/>
</g>
<g id="line2d_119">
<g clip-path="url(#p72ff483b01)">
<use href="#ma094b5fcf0" x="113.319818" y="547.526556" style="fill: #ababab; stroke: #ababab; stroke-width: 4"/>
<use href="#ma094b5fcf0" x="176.359091" y="546.6991" style="fill: #ababab; stroke: #ababab; stroke-width: 4"/>
<use href="#ma094b5fcf0" x="239.398364" y="500.413286" style="fill: #ababab; stroke: #ababab; stroke-width: 4"/>
<use href="#ma094b5fcf0" x="302.437636" y="437.785218" style="fill: #ababab; stroke: #ababab; stroke-width: 4"/>
<use href="#ma094b5fcf0" x="365.476909" y="399.592956" style="fill: #ababab; stroke: #ababab; stroke-width: 4"/>
<use href="#ma094b5fcf0" x="428.516182" y="356.797972" style="fill: #ababab; stroke: #ababab; stroke-width: 4"/>
</g>
</g>
<g id="line2d_120">
<g clip-path="url(#p72ff483b01)">
<use href="#ma094b5fcf0" x="113.319818" y="547.423124" style="fill: #ababab; stroke: #ababab; stroke-width: 4"/>
<use href="#ma094b5fcf0" x="176.359091" y="546.18194" style="fill: #ababab; stroke: #ababab; stroke-width: 4"/>
<use href="#ma094b5fcf0" x="239.398364" y="494.414231" style="fill: #ababab; stroke: #ababab; stroke-width: 4"/>
<use href="#ma094b5fcf0" x="302.437636" y="427.338587" style="fill: #ababab; stroke: #ababab; stroke-width: 4"/>
<use href="#ma094b5fcf0" x="365.476909" y="389.61177" style="fill: #ababab; stroke: #ababab; stroke-width: 4"/>
<use href="#ma094b5fcf0" x="428.516182" y="345.317021" style="fill: #ababab; stroke: #ababab; stroke-width: 4"/>
</g>
</g>
<g id="LineCollection_20">
<path d="M 113.319818 547.578272 L 113.319818 547.371408 " clip-path="url(#p72ff483b01)" style="fill: none; stroke: #595959; stroke-width: 6"/>
<path d="M 176.359091 547.319692 L 176.359091 547.112828 " clip-path="url(#p72ff483b01)" style="fill: none; stroke: #595959; stroke-width: 6"/>
<path d="M 239.398364 547.061112 L 239.398364 546.854248 " clip-path="url(#p72ff483b01)" style="fill: none; stroke: #595959; stroke-width: 6"/>
<path d="M 302.437636 517.220984 L 302.437636 515.772936 " clip-path="url(#p72ff483b01)" style="fill: none; stroke: #595959; stroke-width: 6"/>
<path d="M 365.476909 480.244048 L 365.476909 476.106769 " clip-path="url(#p72ff483b01)" style="fill: none; stroke: #595959; stroke-width: 6"/>
<path d="M 428.516182 438.043798 L 428.516182 432.872198 " clip-path="url(#p72ff483b01)" style="fill: none; stroke: #595959; stroke-width: 6"/>
</g>
<g id="line2d_121">
<g clip-path="url(#p72ff483b01)">
<use href="#mc23e0b839d" x="113.319818" y="547.578272" style="fill: #595959; stroke: #595959; stroke-width: 4"/>
<use href="#mc23e0b839d" x="176.359091" y="547.319692" style="fill: #595959; stroke: #595959; stroke-width: 4"/>
<use href="#mc23e0b839d" x="239.398364" y="547.061112" style="fill: #595959; stroke: #595959; stroke-width: 4"/>
<use href="#mc23e0b839d" x="302.437636" y="517.220984" style="fill: #595959; stroke: #595959; stroke-width: 4"/>
<use href="#mc23e0b839d" x="365.476909" y="480.244048" style="fill: #595959; stroke: #595959; stroke-width: 4"/>
<use href="#mc23e0b839d" x="428.516182" y="438.043798" style="fill: #595959; stroke: #595959; stroke-width: 4"/>
</g>
</g>
<g id="line2d_122">
<g clip-path="url(#p72ff483b01)">
<use href="#mc23e0b839d" x="113.319818" y="547.371408" style="fill: #595959; stroke: #595959; stroke-width: 4"/>
<use href="#mc23e0b839d" x="176.359091" y="547.112828" style="fill: #595959; stroke: #595959; stroke-width: 4"/>
<use href="#mc23e0b839d" x="239.398364" y="546.854248" style="fill: #595959; stroke: #595959; stroke-width: 4"/>
<use href="#mc23e0b839d" x="302.437636" y="515.772936" style="fill: #595959; stroke: #595959; stroke-width: 4"/>
<use href="#mc23e0b839d" x="365.476909" y="476.106769" style="fill: #595959; stroke: #595959; stroke-width: 4"/>
<use href="#mc23e0b839d" x="428.516182" y="432.872198" style="fill: #595959; stroke: #595959; stroke-width: 4"/>
</g>
</g>
<g id="line2d_123">
<path d="M 113.319818 546.802532 L 176.359091 545.716496 L 239.398364 543.98401 L 302.437636 518.617316 L 365.476909 477.606533 L 428.516182 427.028291 " clip-path="url(#p72ff483b01)" style="fill: none; stroke: #006ba4; stroke-width: 6; stroke-linecap: square"/>
</g>
<g id="line2d_124">
<path d="M 113.319818 547.47484 L 176.359091 547.21626 L 239.398364 546.95768 L 302.437636 520.841103 L 365.476909 482.054108 L 428.516182 438.819538 " clip-path="url(#p72ff483b01)" style="fill: none; stroke-dasharray: 22.2,9.6; stroke-dashoffset: 0; stroke: #ff800e; stroke-width: 6"/>
</g>
<g id="line2d_125">
<path d="M 113.319818 547.47484 L 176.359091 546.44052 L 239.398364 497.413758 L 302.437636 432.561902 L 365.476909 394.602363 L 428.516182 351.057496 " clip-path="url(#p72ff483b01)" style="fill: none; stroke-dasharray: 38.4,9.6,6,9.6; stroke-dashoffset: 0; stroke: #ababab; stroke-width: 6"/>
</g>
<g id="line2d_126">
<path d="M 113.319818 547.47484 L 176.359091 547.21626 L 239.398364 546.95768 L 302.437636 516.49696 L 365.476909 478.175409 L 428.516182 435.457998 " clip-path="url(#p72ff483b01)" style="fill: none; stroke-dasharray: 6,9.9; stroke-dashoffset: 0; stroke: #595959; stroke-width: 6"/>
</g>
<g id="patch_24">
<path d="M 97.56 547.992 L 97.56 335.16 " style="fill: none; stroke: #000000; stroke-width: 0.8; stroke-linejoin: miter; stroke-linecap: square"/>
</g>
<g id="patch_25">
<path d="M 444.276 547.992 L 444.276 335.16 " style="fill: none; stroke: #000000; stroke-width: 0.8; stroke-linejoin: miter; stroke-linecap: square"/>
</g>
<g id="patch_26">
<path d="M 97.56 547.992 L 444.276 547.992 " style="fill: none; stroke: #000000; stroke-width: 0.8; stroke-linejoin: miter; stroke-linecap: square"/>
</g>
<g id="patch_27">
<path d="M 97.56 335.16 L 444.276 335.16 " style="fill: none; stroke: #000000; stroke-width: 0.8; stroke-linejoin: miter; stroke-linecap: square"/>
</g>
<g id="text_59">
<text style='font-size: 24.274px; font-family: "Liberation Sans", sans-serif; text-anchor: middle' x="270.918" y="329.5200" transform="rotate(-0 270.918 329.16)" textLength="233.837" lengthAdjust="spacingAndGlyphs">Decode-heavy, TTFT</text>
</g>
<g id="legend_3">
<g id="patch_28">
<path d="M 110.86 461.91375 L 259.410312 461.91375 Q 263.210312 461.91375 263.210312 458.11375 L 263.210312 348.46 Q 263.210312 344.66 259.410312 344.66 L 110.86 344.66 Q 107.06 344.66 107.06 348.46 L 107.06 458.11375 Q 107.06 461.91375 110.86 461.91375 z
" style="fill: #ffffff; opacity: 0.5; stroke: #cccccc; stroke-linejoin: miter"/>
</g>
<g id="LineCollection_21">
<path d="M 133.66 369.547031 L 133.66 350.547031 " style="fill: none; stroke: #006ba4; stroke-width: 6"/>
</g>
<g id="line2d_127">
<g>
<use href="#m3b97e9b83c" x="133.66" y="369.547031" style="fill: #006ba4; stroke: #006ba4; stroke-width: 4"/>
</g>
</g>
<g id="line2d_128">
<g>
<use href="#m3b97e9b83c" x="133.66" y="350.547031" style="fill: #006ba4; stroke: #006ba4; stroke-width: 4"/>
</g>
</g>
<g id="line2d_129">
<path d="M 114.66 360.047031 L 152.66 360.047031 " style="fill: none; stroke: #006ba4; stroke-width: 6; stroke-linecap: square"/>
</g>
<g id="line2d_130"/>
<g id="text_60">
<text style='font-size: 20.140px; font-family: "Liberation Sans", sans-serif; text-anchor: start' x="167.86" y="367.0570" transform="rotate(-0 167.86 366.697031)" textLength="48.797" lengthAdjust="spacingAndGlyphs">vLLM</text>
</g>
<g id="LineCollection_22">
<path d="M 133.66 397.435469 L 133.66 378.435469 " style="fill: none; stroke: #ff800e; stroke-width: 6"/>
</g>
<g id="line2d_131">
<g>
<use href="#m7228e9b4b5" x="133.66" y="397.435469" style="fill: #ff800e; stroke: #ff800e; stroke-width: 4"/>
</g>
</g>
<g id="line2d_132">
<g>
<use href="#m7228e9b4b5" x="133.66" y="378.435469" style="fill: #ff800e; stroke: #ff800e; stroke-width: 4"/>
</g>
</g>
<g id="line2d_133">
<path d="M 114.66 387.935469 L 152.66 387.935469 " style="fill: none; stroke-dasharray: 22.2,9.6; stroke-dashoffset: 0; stroke: #ff800e; stroke-width: 6"/>
</g>
<g id="line2d_134"/>
<g id="text_61">
<text style='font-size: 20.140px; font-family: "Liberation Sans", sans-serif; text-anchor: start' x="167.86" y="394.9455" transform="rotate(-0 167.86 394.585469)" textLength="73.103" lengthAdjust="spacingAndGlyphs">SGLang</text>
</g>
<g id="LineCollection_23">
<path d="M 133.66 425.323906 L 133.66 406.323906 " style="fill: none; stroke: #ababab; stroke-width: 6"/>
</g>
<g id="line2d_135">
<g>
<use href="#ma094b5fcf0" x="133.66" y="425.323906" style="fill: #ababab; stroke: #ababab; stroke-width: 4"/>
</g>
</g>
<g id="line2d_136">
<g>
<use href="#ma094b5fcf0" x="133.66" y="406.323906" style="fill: #ababab; stroke: #ababab; stroke-width: 4"/>
</g>
</g>
<g id="line2d_137">
<path d="M 114.66 415.823906 L 152.66 415.823906 " style="fill: none; stroke-dasharray: 38.4,9.6,6,9.6; stroke-dashoffset: 0; stroke: #ababab; stroke-width: 6"/>
</g>
<g id="line2d_138"/>
<g id="text_62">
<text style='font-size: 20.140px; font-family: "Liberation Sans", sans-serif; text-anchor: start' x="167.86" y="422.8339" transform="rotate(-0 167.86 422.473906)" textLength="87.728" lengthAdjust="spacingAndGlyphs">lmdeploy</text>
</g>
<g id="LineCollection_24">
<path d="M 133.66 453.212344 L 133.66 434.212344 " style="fill: none; stroke: #595959; stroke-width: 6"/>
</g>
<g id="line2d_139">
<g>
<use href="#mc23e0b839d" x="133.66" y="453.212344" style="fill: #595959; stroke: #595959; stroke-width: 4"/>
</g>
</g>
<g id="line2d_140">
<g>
<use href="#mc23e0b839d" x="133.66" y="434.212344" style="fill: #595959; stroke: #595959; stroke-width: 4"/>
</g>
</g>
<g id="line2d_141">
<path d="M 114.66 443.712344 L 152.66 443.712344 " style="fill: none; stroke-dasharray: 6,9.9; stroke-dashoffset: 0; stroke: #595959; stroke-width: 6"/>
</g>
<g id="line2d_142"/>
<g id="text_63">
<text style='font-size: 20.140px; font-family: "Liberation Sans", sans-serif; text-anchor: start' x="167.86" y="450.7223" transform="rotate(-0 167.86 450.362344)" textLength="77.693" lengthAdjust="spacingAndGlyphs">TRT-LLM</text>
</g>
</g>
</g>
<g id="axes_5">
<g id="patch_29">
<path d="M 542.52 547.992 L 889.236 547.992 L 889.236 335.16 L 542.52 335.16 z
" style="fill: #ffffff"/>
</g>
<g id="matplotlib.axis_9">
<g id="xtick_23">
<g id="line2d_143">
<g>
<use href="#m877f683ac1" x="558.279818" y="547.992" style="stroke: #000000; stroke-width: 0.8"/>
</g>
</g>
<g id="text_64">
<text style='font-size: 20.710px; font-family: "Liberation Sans", sans-serif; text-anchor: middle' x="558.279818" y="569.7890" transform="rotate(-0 558.279818 569.429031)" textLength="12.088" lengthAdjust="spacingAndGlyphs">2</text>
</g>
</g>
<g id="xtick_24">
<g id="line2d_144">
<g>
<use href="#m877f683ac1" x="621.319091" y="547.992" style="stroke: #000000; stroke-width: 0.8"/>
</g>
</g>
<g id="text_65">
<text style='font-size: 20.710px; font-family: "Liberation Sans", sans-serif; text-anchor: middle' x="621.319091" y="569.7890" transform="rotate(-0 621.319091 569.429031)" textLength="12.088" lengthAdjust="spacingAndGlyphs">4</text>
</g>
</g>
<g id="xtick_25">
<g id="line2d_145">
<g>
<use href="#m877f683ac1" x="684.358364" y="547.992" style="stroke: #000000; stroke-width: 0.8"/>
</g>
</g>
<g id="text_66">
<text style='font-size: 20.710px; font-family: "Liberation Sans", sans-serif; text-anchor: middle' x="684.358364" y="569.7890" transform="rotate(-0 684.358364 569.429031)" textLength="12.088" lengthAdjust="spacingAndGlyphs">8</text>
</g>
</g>
<g id="xtick_26">
<g id="line2d_146">
<g>
<use href="#m877f683ac1" x="747.397636" y="547.992" style="stroke: #000000; stroke-width: 0.8"/>
</g>
</g>
<g id="text_67">
<text style='font-size: 20.710px; font-family: "Liberation Sans", sans-serif; text-anchor: middle' x="747.397636" y="569.7890" transform="rotate(-0 747.397636 569.429031)" textLength="24.176" lengthAdjust="spacingAndGlyphs">16</text>
</g>
</g>
<g id="xtick_27">
<g id="line2d_147">
<g>
<use href="#m877f683ac1" x="810.436909" y="547.992" style="stroke: #000000; stroke-width: 0.8"/>
</g>
</g>
<g id="text_68">
<text style='font-size: 20.710px; font-family: "Liberation Sans", sans-serif; text-anchor: middle' x="810.436909" y="569.7890" transform="rotate(-0 810.436909 569.429031)" textLength="24.176" lengthAdjust="spacingAndGlyphs">32</text>
</g>
</g>
<g id="xtick_28">
<g id="line2d_148">
<g>
<use href="#m877f683ac1" x="873.476182" y="547.992" style="stroke: #000000; stroke-width: 0.8"/>
</g>
</g>
<g id="text_69">
<text style='font-size: 20.140px; font-family: "Liberation Sans", sans-serif; text-anchor: middle' x="873.476182" y="569.7890" transform="rotate(-0 873.476182 569.429031)" textLength="24.008" lengthAdjust="spacingAndGlyphs">inf</text>
</g>
</g>
<g id="text_70">
<text style='font-size: 20.140px; font-family: "Liberation Sans", sans-serif; text-anchor: middle' x="715.878" y="592.1775" transform="rotate(-0 715.878 591.817469)" textLength="38.469" lengthAdjust="spacingAndGlyphs">QPS</text>
</g>
</g>
<g id="matplotlib.axis_10">
<g id="ytick_19">
<g id="line2d_149">
<path d="M 542.52 547.992 L 889.236 547.992 " clip-path="url(#p36aeca05a4)" style="fill: none; stroke: #b0b0b0; stroke-width: 0.8; stroke-linecap: square"/>
</g>
<g id="line2d_150">
<g>
<use href="#m7abbb79476" x="542.52" y="547.992" style="stroke: #000000; stroke-width: 0.8"/>
</g>
</g>
<g id="text_71">
<text style='font-size: 20.710px; font-family: "Liberation Sans", sans-serif; text-anchor: end' x="535.52" y="555.5705" transform="rotate(-0 535.52 555.210516)" textLength="12.088" lengthAdjust="spacingAndGlyphs">0</text>
</g>
</g>
<g id="ytick_20">
<g id="line2d_151">
<path d="M 542.52 465.498977 L 889.236 465.498977 " clip-path="url(#p36aeca05a4)" style="fill: none; stroke: #b0b0b0; stroke-width: 0.8; stroke-linecap: square"/>
</g>
<g id="line2d_152">
<g>
<use href="#m7abbb79476" x="542.52" y="465.498977" style="stroke: #000000; stroke-width: 0.8"/>
</g>
</g>
<g id="text_72">
<text style='font-size: 20.710px; font-family: "Liberation Sans", sans-serif; text-anchor: end' x="535.52" y="473.0775" transform="rotate(-0 535.52 472.717492)" textLength="36.259" lengthAdjust="spacingAndGlyphs">100</text>
</g>
</g>
<g id="ytick_21">
<g id="line2d_153">
<path d="M 542.52 383.005953 L 889.236 383.005953 " clip-path="url(#p36aeca05a4)" style="fill: none; stroke: #b0b0b0; stroke-width: 0.8; stroke-linecap: square"/>
</g>
<g id="line2d_154">
<g>
<use href="#m7abbb79476" x="542.52" y="383.005953" style="stroke: #000000; stroke-width: 0.8"/>
</g>
</g>
<g id="text_73">
<text style='font-size: 20.710px; font-family: "Liberation Sans", sans-serif; text-anchor: end' x="535.52" y="390.5845" transform="rotate(-0 535.52 390.224469)" textLength="36.259" lengthAdjust="spacingAndGlyphs">200</text>
</g>
</g>
<g id="text_74">
<text style='font-size: 20.140px; font-family: "Liberation Sans", sans-serif; text-anchor: middle' x="491.302344" y="441.576" transform="rotate(-90 491.302344 441.576)" textLength="98.876" lengthAdjust="spacingAndGlyphs">TPOT (ms)</text>
</g>
</g>
<g id="LineCollection_25">
<path d="M 558.279818 511.942549 L 558.279818 510.292688 " clip-path="url(#p36aeca05a4)" style="fill: none; stroke: #006ba4; stroke-width: 6"/>
<path d="M 621.319091 497.093805 L 621.319091 493.794084 " clip-path="url(#p36aeca05a4)" style="fill: none; stroke: #006ba4; stroke-width: 6"/>
<path d="M 684.358364 389.19293 L 684.358364 385.068279 " clip-path="url(#p36aeca05a4)" style="fill: none; stroke: #006ba4; stroke-width: 6"/>
<path d="M 747.397636 363.620093 L 747.397636 356.195721 " clip-path="url(#p36aeca05a4)" style="fill: none; stroke: #006ba4; stroke-width: 6"/>
<path d="M 810.436909 367.167293 L 810.436909 359.742921 " clip-path="url(#p36aeca05a4)" style="fill: none; stroke: #006ba4; stroke-width: 6"/>
<path d="M 873.476182 370.961972 L 873.476182 362.71267 " clip-path="url(#p36aeca05a4)" style="fill: none; stroke: #006ba4; stroke-width: 6"/>
</g>
<g id="line2d_155">
<g clip-path="url(#p36aeca05a4)">
<use href="#m3b97e9b83c" x="558.279818" y="511.942549" style="fill: #006ba4; stroke: #006ba4; stroke-width: 4"/>
<use href="#m3b97e9b83c" x="621.319091" y="497.093805" style="fill: #006ba4; stroke: #006ba4; stroke-width: 4"/>
<use href="#m3b97e9b83c" x="684.358364" y="389.19293" style="fill: #006ba4; stroke: #006ba4; stroke-width: 4"/>
<use href="#m3b97e9b83c" x="747.397636" y="363.620093" style="fill: #006ba4; stroke: #006ba4; stroke-width: 4"/>
<use href="#m3b97e9b83c" x="810.436909" y="367.167293" style="fill: #006ba4; stroke: #006ba4; stroke-width: 4"/>
<use href="#m3b97e9b83c" x="873.476182" y="370.961972" style="fill: #006ba4; stroke: #006ba4; stroke-width: 4"/>
</g>
</g>
<g id="line2d_156">
<g clip-path="url(#p36aeca05a4)">
<use href="#m3b97e9b83c" x="558.279818" y="510.292688" style="fill: #006ba4; stroke: #006ba4; stroke-width: 4"/>
<use href="#m3b97e9b83c" x="621.319091" y="493.794084" style="fill: #006ba4; stroke: #006ba4; stroke-width: 4"/>
<use href="#m3b97e9b83c" x="684.358364" y="385.068279" style="fill: #006ba4; stroke: #006ba4; stroke-width: 4"/>
<use href="#m3b97e9b83c" x="747.397636" y="356.195721" style="fill: #006ba4; stroke: #006ba4; stroke-width: 4"/>
<use href="#m3b97e9b83c" x="810.436909" y="359.742921" style="fill: #006ba4; stroke: #006ba4; stroke-width: 4"/>
<use href="#m3b97e9b83c" x="873.476182" y="362.71267" style="fill: #006ba4; stroke: #006ba4; stroke-width: 4"/>
</g>
</g>
<g id="LineCollection_26">
<path d="M 558.279818 509.715237 L 558.279818 508.065377 " clip-path="url(#p36aeca05a4)" style="fill: none; stroke: #ff800e; stroke-width: 6"/>
<path d="M 621.319091 486.204726 L 621.319091 485.214809 " clip-path="url(#p36aeca05a4)" style="fill: none; stroke: #ff800e; stroke-width: 6"/>
<path d="M 684.358364 356.030735 L 684.358364 350.751181 " clip-path="url(#p36aeca05a4)" style="fill: none; stroke: #ff800e; stroke-width: 6"/>
<path d="M 747.397636 351.658605 L 747.397636 343.409302 " clip-path="url(#p36aeca05a4)" style="fill: none; stroke: #ff800e; stroke-width: 6"/>
<path d="M 810.436909 351.658605 L 810.436909 345.059163 " clip-path="url(#p36aeca05a4)" style="fill: none; stroke: #ff800e; stroke-width: 6"/>
<path d="M 873.476182 353.638437 L 873.476182 347.038995 " clip-path="url(#p36aeca05a4)" style="fill: none; stroke: #ff800e; stroke-width: 6"/>
</g>
<g id="line2d_157">
<g clip-path="url(#p36aeca05a4)">
<use href="#m7228e9b4b5" x="558.279818" y="509.715237" style="fill: #ff800e; stroke: #ff800e; stroke-width: 4"/>
<use href="#m7228e9b4b5" x="621.319091" y="486.204726" style="fill: #ff800e; stroke: #ff800e; stroke-width: 4"/>
<use href="#m7228e9b4b5" x="684.358364" y="356.030735" style="fill: #ff800e; stroke: #ff800e; stroke-width: 4"/>
<use href="#m7228e9b4b5" x="747.397636" y="351.658605" style="fill: #ff800e; stroke: #ff800e; stroke-width: 4"/>
<use href="#m7228e9b4b5" x="810.436909" y="351.658605" style="fill: #ff800e; stroke: #ff800e; stroke-width: 4"/>
<use href="#m7228e9b4b5" x="873.476182" y="353.638437" style="fill: #ff800e; stroke: #ff800e; stroke-width: 4"/>
</g>
</g>
<g id="line2d_158">
<g clip-path="url(#p36aeca05a4)">
<use href="#m7228e9b4b5" x="558.279818" y="508.065377" style="fill: #ff800e; stroke: #ff800e; stroke-width: 4"/>
<use href="#m7228e9b4b5" x="621.319091" y="485.214809" style="fill: #ff800e; stroke: #ff800e; stroke-width: 4"/>
<use href="#m7228e9b4b5" x="684.358364" y="350.751181" style="fill: #ff800e; stroke: #ff800e; stroke-width: 4"/>
<use href="#m7228e9b4b5" x="747.397636" y="343.409302" style="fill: #ff800e; stroke: #ff800e; stroke-width: 4"/>
<use href="#m7228e9b4b5" x="810.436909" y="345.059163" style="fill: #ff800e; stroke: #ff800e; stroke-width: 4"/>
<use href="#m7228e9b4b5" x="873.476182" y="347.038995" style="fill: #ff800e; stroke: #ff800e; stroke-width: 4"/>
</g>
</g>
<g id="LineCollection_27">
<path d="M 558.279818 514.994791 L 558.279818 513.34493 " clip-path="url(#p36aeca05a4)" style="fill: none; stroke: #ababab; stroke-width: 6"/>
<path d="M 621.319091 499.321116 L 621.319091 497.671256 " clip-path="url(#p36aeca05a4)" style="fill: none; stroke: #ababab; stroke-width: 6"/>
<path d="M 684.358364 474.655702 L 684.358364 473.005842 " clip-path="url(#p36aeca05a4)" style="fill: none; stroke: #ababab; stroke-width: 6"/>
<path d="M 747.397636 475.39814 L 747.397636 473.748279 " clip-path="url(#p36aeca05a4)" style="fill: none; stroke: #ababab; stroke-width: 6"/>
<path d="M 810.436909 476.22307 L 810.436909 474.573209 " clip-path="url(#p36aeca05a4)" style="fill: none; stroke: #ababab; stroke-width: 6"/>
<path d="M 873.476182 476.883014 L 873.476182 475.233153 " clip-path="url(#p36aeca05a4)" style="fill: none; stroke: #ababab; stroke-width: 6"/>
</g>
<g id="line2d_159">
<g clip-path="url(#p36aeca05a4)">
<use href="#ma094b5fcf0" x="558.279818" y="514.994791" style="fill: #ababab; stroke: #ababab; stroke-width: 4"/>
<use href="#ma094b5fcf0" x="621.319091" y="499.321116" style="fill: #ababab; stroke: #ababab; stroke-width: 4"/>
<use href="#ma094b5fcf0" x="684.358364" y="474.655702" style="fill: #ababab; stroke: #ababab; stroke-width: 4"/>
<use href="#ma094b5fcf0" x="747.397636" y="475.39814" style="fill: #ababab; stroke: #ababab; stroke-width: 4"/>
<use href="#ma094b5fcf0" x="810.436909" y="476.22307" style="fill: #ababab; stroke: #ababab; stroke-width: 4"/>
<use href="#ma094b5fcf0" x="873.476182" y="476.883014" style="fill: #ababab; stroke: #ababab; stroke-width: 4"/>
</g>
</g>
<g id="line2d_160">
<g clip-path="url(#p36aeca05a4)">
<use href="#ma094b5fcf0" x="558.279818" y="513.34493" style="fill: #ababab; stroke: #ababab; stroke-width: 4"/>
<use href="#ma094b5fcf0" x="621.319091" y="497.671256" style="fill: #ababab; stroke: #ababab; stroke-width: 4"/>
<use href="#ma094b5fcf0" x="684.358364" y="473.005842" style="fill: #ababab; stroke: #ababab; stroke-width: 4"/>
<use href="#ma094b5fcf0" x="747.397636" y="473.748279" style="fill: #ababab; stroke: #ababab; stroke-width: 4"/>
<use href="#ma094b5fcf0" x="810.436909" y="474.573209" style="fill: #ababab; stroke: #ababab; stroke-width: 4"/>
<use href="#ma094b5fcf0" x="873.476182" y="475.233153" style="fill: #ababab; stroke: #ababab; stroke-width: 4"/>
</g>
</g>
<g id="LineCollection_28">
<path d="M 558.279818 516.397172 L 558.279818 511.942549 " clip-path="url(#p36aeca05a4)" style="fill: none; stroke: #595959; stroke-width: 6"/>
<path d="M 621.319091 498.661172 L 621.319091 495.361451 " clip-path="url(#p36aeca05a4)" style="fill: none; stroke: #595959; stroke-width: 6"/>
<path d="M 684.358364 405.27907 L 684.358364 401.484391 " clip-path="url(#p36aeca05a4)" style="fill: none; stroke: #595959; stroke-width: 6"/>
<path d="M 747.397636 357.433116 L 747.397636 352.483535 " clip-path="url(#p36aeca05a4)" style="fill: none; stroke: #595959; stroke-width: 6"/>
<path d="M 810.436909 359.907907 L 810.436909 353.308465 " clip-path="url(#p36aeca05a4)" style="fill: none; stroke: #595959; stroke-width: 6"/>
<path d="M 873.476182 362.630177 L 873.476182 354.380874 " clip-path="url(#p36aeca05a4)" style="fill: none; stroke: #595959; stroke-width: 6"/>
</g>
<g id="line2d_161">
<g clip-path="url(#p36aeca05a4)">
<use href="#mc23e0b839d" x="558.279818" y="516.397172" style="fill: #595959; stroke: #595959; stroke-width: 4"/>
<use href="#mc23e0b839d" x="621.319091" y="498.661172" style="fill: #595959; stroke: #595959; stroke-width: 4"/>
<use href="#mc23e0b839d" x="684.358364" y="405.27907" style="fill: #595959; stroke: #595959; stroke-width: 4"/>
<use href="#mc23e0b839d" x="747.397636" y="357.433116" style="fill: #595959; stroke: #595959; stroke-width: 4"/>
<use href="#mc23e0b839d" x="810.436909" y="359.907907" style="fill: #595959; stroke: #595959; stroke-width: 4"/>
<use href="#mc23e0b839d" x="873.476182" y="362.630177" style="fill: #595959; stroke: #595959; stroke-width: 4"/>
</g>
</g>
<g id="line2d_162">
<g clip-path="url(#p36aeca05a4)">
<use href="#mc23e0b839d" x="558.279818" y="511.942549" style="fill: #595959; stroke: #595959; stroke-width: 4"/>
<use href="#mc23e0b839d" x="621.319091" y="495.361451" style="fill: #595959; stroke: #595959; stroke-width: 4"/>
<use href="#mc23e0b839d" x="684.358364" y="401.484391" style="fill: #595959; stroke: #595959; stroke-width: 4"/>
<use href="#mc23e0b839d" x="747.397636" y="352.483535" style="fill: #595959; stroke: #595959; stroke-width: 4"/>
<use href="#mc23e0b839d" x="810.436909" y="353.308465" style="fill: #595959; stroke: #595959; stroke-width: 4"/>
<use href="#mc23e0b839d" x="873.476182" y="354.380874" style="fill: #595959; stroke: #595959; stroke-width: 4"/>
</g>
</g>
<g id="line2d_163">
<path d="M 558.279818 511.117619 L 621.319091 495.443944 L 684.358364 387.130605 L 747.397636 359.907907 L 810.436909 363.455107 L 873.476182 366.837321 " clip-path="url(#p36aeca05a4)" style="fill: none; stroke: #006ba4; stroke-width: 6; stroke-linecap: square"/>
</g>
<g id="line2d_164">
<path d="M 558.279818 508.890307 L 621.319091 485.709767 L 684.358364 353.390958 L 747.397636 347.533953 L 810.436909 348.358884 L 873.476182 350.338716 " clip-path="url(#p36aeca05a4)" style="fill: none; stroke-dasharray: 22.2,9.6; stroke-dashoffset: 0; stroke: #ff800e; stroke-width: 6"/>
</g>
<g id="line2d_165">
<path d="M 558.279818 514.16986 L 621.319091 498.496186 L 684.358364 473.830772 L 747.397636 474.573209 L 810.436909 475.39814 L 873.476182 476.058084 " clip-path="url(#p36aeca05a4)" style="fill: none; stroke-dasharray: 38.4,9.6,6,9.6; stroke-dashoffset: 0; stroke: #ababab; stroke-width: 6"/>
</g>
<g id="line2d_166">
<path d="M 558.279818 514.16986 L 621.319091 497.011312 L 684.358364 403.38173 L 747.397636 354.958326 L 810.436909 356.608186 L 873.476182 358.505526 " clip-path="url(#p36aeca05a4)" style="fill: none; stroke-dasharray: 6,9.9; stroke-dashoffset: 0; stroke: #595959; stroke-width: 6"/>
</g>
<g id="patch_30">
<path d="M 542.52 547.992 L 542.52 335.16 " style="fill: none; stroke: #000000; stroke-width: 0.8; stroke-linejoin: miter; stroke-linecap: square"/>
</g>
<g id="patch_31">
<path d="M 889.236 547.992 L 889.236 335.16 " style="fill: none; stroke: #000000; stroke-width: 0.8; stroke-linejoin: miter; stroke-linecap: square"/>
</g>
<g id="patch_32">
<path d="M 542.52 547.992 L 889.236 547.992 " style="fill: none; stroke: #000000; stroke-width: 0.8; stroke-linejoin: miter; stroke-linecap: square"/>
</g>
<g id="patch_33">
<path d="M 542.52 335.16 L 889.236 335.16 " style="fill: none; stroke: #000000; stroke-width: 0.8; stroke-linejoin: miter; stroke-linecap: square"/>
</g>
<g id="text_75">
<text style='font-size: 24.274px; font-family: "Liberation Sans", sans-serif; text-anchor: middle' x="715.878" y="329.5200" transform="rotate(-0 715.878 329.16)" textLength="239.316" lengthAdjust="spacingAndGlyphs">Decode-heavy, TPOT</text>
</g>
<g id="legend_4">
<g id="patch_34">
<path d="M 727.385687 538.492 L 875.936 538.492 Q 879.736 538.492 879.736 534.692 L 879.736 425.03825 Q 879.736 421.23825 875.936 421.23825 L 727.385687 421.23825 Q 723.585687 421.23825 723.585687 425.03825 L 723.585687 534.692 Q 723.585687 538.492 727.385687 538.492 z
" style="fill: #ffffff; opacity: 0.5; stroke: #cccccc; stroke-linejoin: miter"/>
</g>
<g id="LineCollection_29">
<path d="M 750.185687 446.125281 L 750.185687 427.125281 " style="fill: none; stroke: #006ba4; stroke-width: 6"/>
</g>
<g id="line2d_167">
<g>
<use href="#m3b97e9b83c" x="750.185687" y="446.125281" style="fill: #006ba4; stroke: #006ba4; stroke-width: 4"/>
</g>
</g>
<g id="line2d_168">
<g>
<use href="#m3b97e9b83c" x="750.185687" y="427.125281" style="fill: #006ba4; stroke: #006ba4; stroke-width: 4"/>
</g>
</g>
<g id="line2d_169">
<path d="M 731.185687 436.625281 L 769.185687 436.625281 " style="fill: none; stroke: #006ba4; stroke-width: 6; stroke-linecap: square"/>
</g>
<g id="line2d_170"/>
<g id="text_76">
<text style='font-size: 20.140px; font-family: "Liberation Sans", sans-serif; text-anchor: start' x="784.385688" y="443.6353" transform="rotate(-0 784.385688 443.275281)" textLength="48.797" lengthAdjust="spacingAndGlyphs">vLLM</text>
</g>
<g id="LineCollection_30">
<path d="M 750.185687 474.013719 L 750.185687 455.013719 " style="fill: none; stroke: #ff800e; stroke-width: 6"/>
</g>
<g id="line2d_171">
<g>
<use href="#m7228e9b4b5" x="750.185687" y="474.013719" style="fill: #ff800e; stroke: #ff800e; stroke-width: 4"/>
</g>
</g>
<g id="line2d_172">
<g>
<use href="#m7228e9b4b5" x="750.185687" y="455.013719" style="fill: #ff800e; stroke: #ff800e; stroke-width: 4"/>
</g>
</g>
<g id="line2d_173">
<path d="M 731.185687 464.513719 L 769.185687 464.513719 " style="fill: none; stroke-dasharray: 22.2,9.6; stroke-dashoffset: 0; stroke: #ff800e; stroke-width: 6"/>
</g>
<g id="line2d_174"/>
<g id="text_77">
<text style='font-size: 20.140px; font-family: "Liberation Sans", sans-serif; text-anchor: start' x="784.385688" y="471.5237" transform="rotate(-0 784.385688 471.163719)" textLength="73.103" lengthAdjust="spacingAndGlyphs">SGLang</text>
</g>
<g id="LineCollection_31">
<path d="M 750.185687 501.902156 L 750.185687 482.902156 " style="fill: none; stroke: #ababab; stroke-width: 6"/>
</g>
<g id="line2d_175">
<g>
<use href="#ma094b5fcf0" x="750.185687" y="501.902156" style="fill: #ababab; stroke: #ababab; stroke-width: 4"/>
</g>
</g>
<g id="line2d_176">
<g>
<use href="#ma094b5fcf0" x="750.185687" y="482.902156" style="fill: #ababab; stroke: #ababab; stroke-width: 4"/>
</g>
</g>
<g id="line2d_177">
<path d="M 731.185687 492.402156 L 769.185687 492.402156 " style="fill: none; stroke-dasharray: 38.4,9.6,6,9.6; stroke-dashoffset: 0; stroke: #ababab; stroke-width: 6"/>
</g>
<g id="line2d_178"/>
<g id="text_78">
<text style='font-size: 20.140px; font-family: "Liberation Sans", sans-serif; text-anchor: start' x="784.385688" y="499.4122" transform="rotate(-0 784.385688 499.052156)" textLength="87.728" lengthAdjust="spacingAndGlyphs">lmdeploy</text>
</g>
<g id="LineCollection_32">
<path d="M 750.185687 529.790594 L 750.185687 510.790594 " style="fill: none; stroke: #595959; stroke-width: 6"/>
</g>
<g id="line2d_179">
<g>
<use href="#mc23e0b839d" x="750.185687" y="529.790594" style="fill: #595959; stroke: #595959; stroke-width: 4"/>
</g>
</g>
<g id="line2d_180">
<g>
<use href="#mc23e0b839d" x="750.185687" y="510.790594" style="fill: #595959; stroke: #595959; stroke-width: 4"/>
</g>
</g>
<g id="line2d_181">
<path d="M 731.185687 520.290594 L 769.185687 520.290594 " style="fill: none; stroke-dasharray: 6,9.9; stroke-dashoffset: 0; stroke: #595959; stroke-width: 6"/>
</g>
<g id="line2d_182"/>
<g id="text_79">
<text style='font-size: 20.140px; font-family: "Liberation Sans", sans-serif; text-anchor: start' x="784.385688" y="527.3006" transform="rotate(-0 784.385688 526.940594)" textLength="77.693" lengthAdjust="spacingAndGlyphs">TRT-LLM</text>
</g>
</g>
</g>
<g id="axes_6">
<g id="patch_35">
<path d="M 987.84 547.992 L 1334.556 547.992 L 1334.556 335.16 L 987.84 335.16 z
" style="fill: #ffffff"/>
</g>
<g id="patch_36">
<path d="M 1003.599818 547.992 L 1069.956947 547.992 L 1069.956947 351.165083 L 1003.599818 351.165083 z
" clip-path="url(#p825a9b53ac)" style="fill: #006ba4"/>
</g>
<g id="patch_37">
<path d="M 1086.54623 547.992 L 1152.903359 547.992 L 1152.903359 356.860945 L 1086.54623 356.860945 z
" clip-path="url(#p825a9b53ac)" style="fill: #ff800e"/>
</g>
<g id="patch_38">
<path d="M 1169.492641 547.992 L 1235.84977 547.992 L 1235.84977 388.507854 L 1169.492641 388.507854 z
" clip-path="url(#p825a9b53ac)" style="fill: #ababab"/>
</g>
<g id="patch_39">
<path d="M 1252.439053 547.992 L 1318.796182 547.992 L 1318.796182 345.294857 L 1252.439053 345.294857 z
" clip-path="url(#p825a9b53ac)" style="fill: #595959"/>
</g>
<g id="matplotlib.axis_11">
<g id="xtick_29">
<g id="line2d_183">
<g>
<use href="#m877f683ac1" x="1036.778383" y="547.992" style="stroke: #000000; stroke-width: 0.8"/>
</g>
</g>
<g id="text_80">
<text style='font-size: 20.140px; font-family: "Liberation Sans", sans-serif; text-anchor: middle' x="1036.778383" y="569.7890" transform="rotate(-0 1036.778383 569.429031)" textLength="48.797" lengthAdjust="spacingAndGlyphs">vLLM</text>
</g>
</g>
<g id="xtick_30">
<g id="line2d_184">
<g>
<use href="#m877f683ac1" x="1119.724794" y="547.992" style="stroke: #000000; stroke-width: 0.8"/>
</g>
</g>
<g id="text_81">
<text style='font-size: 20.140px; font-family: "Liberation Sans", sans-serif; text-anchor: middle' x="1119.724794" y="569.7890" transform="rotate(-0 1119.724794 569.429031)" textLength="73.103" lengthAdjust="spacingAndGlyphs">SGLang</text>
</g>
</g>
<g id="xtick_31">
<g id="line2d_185">
<g>
<use href="#m877f683ac1" x="1202.671206" y="547.992" style="stroke: #000000; stroke-width: 0.8"/>
</g>
</g>
<g id="text_82">
<text style='font-size: 20.140px; font-family: "Liberation Sans", sans-serif; text-anchor: middle' x="1202.671206" y="569.7890" transform="rotate(-0 1202.671206 569.429031)" textLength="87.728" lengthAdjust="spacingAndGlyphs">lmdeploy</text>
</g>
</g>
<g id="xtick_32">
<g id="line2d_186">
<g>
<use href="#m877f683ac1" x="1285.617617" y="547.992" style="stroke: #000000; stroke-width: 0.8"/>
</g>
</g>
<g id="text_83">
<text style='font-size: 20.140px; font-family: "Liberation Sans", sans-serif; text-anchor: middle' x="1285.617617" y="569.7890" transform="rotate(-0 1285.617617 569.429031)" textLength="77.693" lengthAdjust="spacingAndGlyphs">TRT-LLM</text>
</g>
</g>
</g>
<g id="matplotlib.axis_12">
<g id="ytick_22">
<g id="line2d_187">
<path d="M 987.84 547.992 L 1334.556 547.992 " clip-path="url(#p825a9b53ac)" style="fill: none; stroke: #b0b0b0; stroke-width: 0.8; stroke-linecap: square"/>
</g>
<g id="line2d_188">
<g>
<use href="#m7abbb79476" x="987.84" y="547.992" style="stroke: #000000; stroke-width: 0.8"/>
</g>
</g>
<g id="text_84">
<text style='font-size: 20.710px; font-family: "Liberation Sans", sans-serif; text-anchor: end' x="980.84" y="555.5705" transform="rotate(-0 980.84 555.210516)" textLength="12.088" lengthAdjust="spacingAndGlyphs">0</text>
</g>
</g>
<g id="ytick_23">
<g id="line2d_189">
<path d="M 987.84 489.870955 L 1334.556 489.870955 " clip-path="url(#p825a9b53ac)" style="fill: none; stroke: #b0b0b0; stroke-width: 0.8; stroke-linecap: square"/>
</g>
<g id="line2d_190">
<g>
<use href="#m7abbb79476" x="987.84" y="489.870955" style="stroke: #000000; stroke-width: 0.8"/>
</g>
</g>
<g id="text_85">
<text style='font-size: 20.710px; font-family: "Liberation Sans", sans-serif; text-anchor: end' x="980.84" y="497.4495" transform="rotate(-0 980.84 497.089471)" textLength="12.088" lengthAdjust="spacingAndGlyphs">2</text>
</g>
</g>
<g id="ytick_24">
<g id="line2d_191">
<path d="M 987.84 431.749911 L 1334.556 431.749911 " clip-path="url(#p825a9b53ac)" style="fill: none; stroke: #b0b0b0; stroke-width: 0.8; stroke-linecap: square"/>
</g>
<g id="line2d_192">
<g>
<use href="#m7abbb79476" x="987.84" y="431.749911" style="stroke: #000000; stroke-width: 0.8"/>
</g>
</g>
<g id="text_86">
<text style='font-size: 20.710px; font-family: "Liberation Sans", sans-serif; text-anchor: end' x="980.84" y="439.3284" transform="rotate(-0 980.84 438.968427)" textLength="12.088" lengthAdjust="spacingAndGlyphs">4</text>
</g>
</g>
<g id="ytick_25">
<g id="line2d_193">
<path d="M 987.84 373.628866 L 1334.556 373.628866 " clip-path="url(#p825a9b53ac)" style="fill: none; stroke: #b0b0b0; stroke-width: 0.8; stroke-linecap: square"/>
</g>
<g id="line2d_194">
<g>
<use href="#m7abbb79476" x="987.84" y="373.628866" style="stroke: #000000; stroke-width: 0.8"/>
</g>
</g>
<g id="text_87">
<text style='font-size: 20.710px; font-family: "Liberation Sans", sans-serif; text-anchor: end' x="980.84" y="381.2074" transform="rotate(-0 980.84 380.847382)" textLength="12.088" lengthAdjust="spacingAndGlyphs">6</text>
</g>
</g>
<g id="text_88">
<text style='font-size: 20.140px; font-family: "Liberation Sans", sans-serif; text-anchor: middle' x="960.799844" y="441.576" transform="rotate(-90 960.799844 441.576)" textLength="171.242" lengthAdjust="spacingAndGlyphs">Thoughput (req/s)</text>
</g>
</g>
<g id="patch_40">
<path d="M 987.84 547.992 L 987.84 335.16 " style="fill: none; stroke: #000000; stroke-width: 0.8; stroke-linejoin: miter; stroke-linecap: square"/>
</g>
<g id="patch_41">
<path d="M 1334.556 547.992 L 1334.556 335.16 " style="fill: none; stroke: #000000; stroke-width: 0.8; stroke-linejoin: miter; stroke-linecap: square"/>
</g>
<g id="patch_42">
<path d="M 987.84 547.992 L 1334.556 547.992 " style="fill: none; stroke: #000000; stroke-width: 0.8; stroke-linejoin: miter; stroke-linecap: square"/>
</g>
<g id="patch_43">
<path d="M 987.84 335.16 L 1334.556 335.16 " style="fill: none; stroke: #000000; stroke-width: 0.8; stroke-linejoin: miter; stroke-linecap: square"/>
</g>
<g id="text_89">
<text style='font-size: 24.274px; font-family: "Liberation Sans", sans-serif; text-anchor: middle' x="1161.198" y="329.5200" transform="rotate(-0 1161.198 329.16)" textLength="312.519" lengthAdjust="spacingAndGlyphs">Decode-heavy, Throughput</text>
</g>
</g>
<g id="axes_7">
<g id="patch_44">
<path d="M 97.56 853.272 L 444.276 853.272 L 444.276 640.44 L 97.56 640.44 z
" style="fill: #ffffff"/>
</g>
<g id="matplotlib.axis_13">
<g id="xtick_33">
<g id="line2d_195">
<g>
<use href="#m877f683ac1" x="113.319818" y="853.272" style="stroke: #000000; stroke-width: 0.8"/>
</g>
</g>
<g id="text_90">
<text style='font-size: 20.710px; font-family: "Liberation Sans", sans-serif; text-anchor: middle' x="113.319818" y="875.0690" transform="rotate(-0 113.319818 874.709031)" textLength="12.088" lengthAdjust="spacingAndGlyphs">2</text>
</g>
</g>
<g id="xtick_34">
<g id="line2d_196">
<g>
<use href="#m877f683ac1" x="176.359091" y="853.272" style="stroke: #000000; stroke-width: 0.8"/>
</g>
</g>
<g id="text_91">
<text style='font-size: 20.710px; font-family: "Liberation Sans", sans-serif; text-anchor: middle' x="176.359091" y="875.0690" transform="rotate(-0 176.359091 874.709031)" textLength="12.088" lengthAdjust="spacingAndGlyphs">4</text>
</g>
</g>
<g id="xtick_35">
<g id="line2d_197">
<g>
<use href="#m877f683ac1" x="239.398364" y="853.272" style="stroke: #000000; stroke-width: 0.8"/>
</g>
</g>
<g id="text_92">
<text style='font-size: 20.710px; font-family: "Liberation Sans", sans-serif; text-anchor: middle' x="239.398364" y="875.0690" transform="rotate(-0 239.398364 874.709031)" textLength="12.088" lengthAdjust="spacingAndGlyphs">8</text>
</g>
</g>
<g id="xtick_36">
<g id="line2d_198">
<g>
<use href="#m877f683ac1" x="302.437636" y="853.272" style="stroke: #000000; stroke-width: 0.8"/>
</g>
</g>
<g id="text_93">
<text style='font-size: 20.710px; font-family: "Liberation Sans", sans-serif; text-anchor: middle' x="302.437636" y="875.0690" transform="rotate(-0 302.437636 874.709031)" textLength="24.176" lengthAdjust="spacingAndGlyphs">16</text>
</g>
</g>
<g id="xtick_37">
<g id="line2d_199">
<g>
<use href="#m877f683ac1" x="365.476909" y="853.272" style="stroke: #000000; stroke-width: 0.8"/>
</g>
</g>
<g id="text_94">
<text style='font-size: 20.710px; font-family: "Liberation Sans", sans-serif; text-anchor: middle' x="365.476909" y="875.0690" transform="rotate(-0 365.476909 874.709031)" textLength="24.176" lengthAdjust="spacingAndGlyphs">32</text>
</g>
</g>
<g id="xtick_38">
<g id="line2d_200">
<g>
<use href="#m877f683ac1" x="428.516182" y="853.272" style="stroke: #000000; stroke-width: 0.8"/>
</g>
</g>
<g id="text_95">
<text style='font-size: 20.140px; font-family: "Liberation Sans", sans-serif; text-anchor: middle' x="428.516182" y="875.0690" transform="rotate(-0 428.516182 874.709031)" textLength="24.008" lengthAdjust="spacingAndGlyphs">inf</text>
</g>
</g>
<g id="text_96">
<text style='font-size: 20.140px; font-family: "Liberation Sans", sans-serif; text-anchor: middle' x="270.918" y="897.4575" transform="rotate(-0 270.918 897.097469)" textLength="38.469" lengthAdjust="spacingAndGlyphs">QPS</text>
</g>
</g>
<g id="matplotlib.axis_14">
<g id="ytick_26">
<g id="line2d_201">
<path d="M 97.56 853.272 L 444.276 853.272 " clip-path="url(#p4a235cd887)" style="fill: none; stroke: #b0b0b0; stroke-width: 0.8; stroke-linecap: square"/>
</g>
<g id="line2d_202">
<g>
<use href="#m7abbb79476" x="97.56" y="853.272" style="stroke: #000000; stroke-width: 0.8"/>
</g>
</g>
<g id="text_97">
<text style='font-size: 20.710px; font-family: "Liberation Sans", sans-serif; text-anchor: end' x="90.56" y="860.8505" transform="rotate(-0 90.56 860.490516)" textLength="12.088" lengthAdjust="spacingAndGlyphs">0</text>
</g>
</g>
<g id="ytick_27">
<g id="line2d_203">
<path d="M 97.56 768.794744 L 444.276 768.794744 " clip-path="url(#p4a235cd887)" style="fill: none; stroke: #b0b0b0; stroke-width: 0.8; stroke-linecap: square"/>
</g>
<g id="line2d_204">
<g>
<use href="#m7abbb79476" x="97.56" y="768.794744" style="stroke: #000000; stroke-width: 0.8"/>
</g>
</g>
<g id="text_98">
<text style='font-size: 20.710px; font-family: "Liberation Sans", sans-serif; text-anchor: end' x="90.56" y="776.3733" transform="rotate(-0 90.56 776.013259)" textLength="60.429" lengthAdjust="spacingAndGlyphs">10000</text>
</g>
</g>
<g id="ytick_28">
<g id="line2d_205">
<path d="M 97.56 684.317487 L 444.276 684.317487 " clip-path="url(#p4a235cd887)" style="fill: none; stroke: #b0b0b0; stroke-width: 0.8; stroke-linecap: square"/>
</g>
<g id="line2d_206">
<g>
<use href="#m7abbb79476" x="97.56" y="684.317487" style="stroke: #000000; stroke-width: 0.8"/>
</g>
</g>
<g id="text_99">
<text style='font-size: 20.710px; font-family: "Liberation Sans", sans-serif; text-anchor: end' x="90.56" y="691.8960" transform="rotate(-0 90.56 691.536003)" textLength="60.429" lengthAdjust="spacingAndGlyphs">20000</text>
</g>
</g>
<g id="text_100">
<text style='font-size: 20.140px; font-family: "Liberation Sans", sans-serif; text-anchor: middle' x="22.164844" y="746.856" transform="rotate(-90 22.164844 746.856)" textLength="94.331" lengthAdjust="spacingAndGlyphs">TTFT (ms)</text>
</g>
</g>
<g id="LineCollection_33">
<path d="M 113.319818 851.371262 L 113.319818 850.864398 " clip-path="url(#p4a235cd887)" style="fill: none; stroke: #006ba4; stroke-width: 6"/>
<path d="M 176.359091 849.833776 L 176.359091 849.326912 " clip-path="url(#p4a235cd887)" style="fill: none; stroke: #006ba4; stroke-width: 6"/>
<path d="M 239.398364 848.287842 L 239.398364 847.780978 " clip-path="url(#p4a235cd887)" style="fill: none; stroke: #006ba4; stroke-width: 6"/>
<path d="M 302.437636 806.302645 L 302.437636 802.923555 " clip-path="url(#p4a235cd887)" style="fill: none; stroke: #006ba4; stroke-width: 6"/>
<path d="M 365.476909 739.987999 L 365.476909 734.919364 " clip-path="url(#p4a235cd887)" style="fill: none; stroke: #006ba4; stroke-width: 6"/>
<path d="M 428.516182 659.058787 L 428.516182 650.611062 " clip-path="url(#p4a235cd887)" style="fill: none; stroke: #006ba4; stroke-width: 6"/>
</g>
<g id="line2d_207">
<g clip-path="url(#p4a235cd887)">
<use href="#m3b97e9b83c" x="113.319818" y="851.371262" style="fill: #006ba4; stroke: #006ba4; stroke-width: 4"/>
<use href="#m3b97e9b83c" x="176.359091" y="849.833776" style="fill: #006ba4; stroke: #006ba4; stroke-width: 4"/>
<use href="#m3b97e9b83c" x="239.398364" y="848.287842" style="fill: #006ba4; stroke: #006ba4; stroke-width: 4"/>
<use href="#m3b97e9b83c" x="302.437636" y="806.302645" style="fill: #006ba4; stroke: #006ba4; stroke-width: 4"/>
<use href="#m3b97e9b83c" x="365.476909" y="739.987999" style="fill: #006ba4; stroke: #006ba4; stroke-width: 4"/>
<use href="#m3b97e9b83c" x="428.516182" y="659.058787" style="fill: #006ba4; stroke: #006ba4; stroke-width: 4"/>
</g>
</g>
<g id="line2d_208">
<g clip-path="url(#p4a235cd887)">
<use href="#m3b97e9b83c" x="113.319818" y="850.864398" style="fill: #006ba4; stroke: #006ba4; stroke-width: 4"/>
<use href="#m3b97e9b83c" x="176.359091" y="849.326912" style="fill: #006ba4; stroke: #006ba4; stroke-width: 4"/>
<use href="#m3b97e9b83c" x="239.398364" y="847.780978" style="fill: #006ba4; stroke: #006ba4; stroke-width: 4"/>
<use href="#m3b97e9b83c" x="302.437636" y="802.923555" style="fill: #006ba4; stroke: #006ba4; stroke-width: 4"/>
<use href="#m3b97e9b83c" x="365.476909" y="734.919364" style="fill: #006ba4; stroke: #006ba4; stroke-width: 4"/>
<use href="#m3b97e9b83c" x="428.516182" y="650.611062" style="fill: #006ba4; stroke: #006ba4; stroke-width: 4"/>
</g>
</g>
<g id="LineCollection_34">
<path d="M 113.319818 852.596182 L 113.319818 852.258273 " clip-path="url(#p4a235cd887)" style="fill: none; stroke: #ff800e; stroke-width: 6"/>
<path d="M 176.359091 851.497978 L 176.359091 851.160069 " clip-path="url(#p4a235cd887)" style="fill: none; stroke: #ff800e; stroke-width: 6"/>
<path d="M 239.398364 850.653205 L 239.398364 850.315296 " clip-path="url(#p4a235cd887)" style="fill: none; stroke: #ff800e; stroke-width: 6"/>
<path d="M 302.437636 811.624713 L 302.437636 806.556077 " clip-path="url(#p4a235cd887)" style="fill: none; stroke: #ff800e; stroke-width: 6"/>
<path d="M 365.476909 748.26677 L 365.476909 741.50859 " clip-path="url(#p4a235cd887)" style="fill: none; stroke: #ff800e; stroke-width: 6"/>
<path d="M 428.516182 677.390352 L 428.516182 667.59099 " clip-path="url(#p4a235cd887)" style="fill: none; stroke: #ff800e; stroke-width: 6"/>
</g>
<g id="line2d_209">
<g clip-path="url(#p4a235cd887)">
<use href="#m7228e9b4b5" x="113.319818" y="852.596182" style="fill: #ff800e; stroke: #ff800e; stroke-width: 4"/>
<use href="#m7228e9b4b5" x="176.359091" y="851.497978" style="fill: #ff800e; stroke: #ff800e; stroke-width: 4"/>
<use href="#m7228e9b4b5" x="239.398364" y="850.653205" style="fill: #ff800e; stroke: #ff800e; stroke-width: 4"/>
<use href="#m7228e9b4b5" x="302.437636" y="811.624713" style="fill: #ff800e; stroke: #ff800e; stroke-width: 4"/>
<use href="#m7228e9b4b5" x="365.476909" y="748.26677" style="fill: #ff800e; stroke: #ff800e; stroke-width: 4"/>
<use href="#m7228e9b4b5" x="428.516182" y="677.390352" style="fill: #ff800e; stroke: #ff800e; stroke-width: 4"/>
</g>
</g>
<g id="line2d_210">
<g clip-path="url(#p4a235cd887)">
<use href="#m7228e9b4b5" x="113.319818" y="852.258273" style="fill: #ff800e; stroke: #ff800e; stroke-width: 4"/>
<use href="#m7228e9b4b5" x="176.359091" y="851.160069" style="fill: #ff800e; stroke: #ff800e; stroke-width: 4"/>
<use href="#m7228e9b4b5" x="239.398364" y="850.315296" style="fill: #ff800e; stroke: #ff800e; stroke-width: 4"/>
<use href="#m7228e9b4b5" x="302.437636" y="806.556077" style="fill: #ff800e; stroke: #ff800e; stroke-width: 4"/>
<use href="#m7228e9b4b5" x="365.476909" y="741.50859" style="fill: #ff800e; stroke: #ff800e; stroke-width: 4"/>
<use href="#m7228e9b4b5" x="428.516182" y="667.59099" style="fill: #ff800e; stroke: #ff800e; stroke-width: 4"/>
</g>
</g>
<g id="LineCollection_35">
<path d="M 113.319818 852.596182 L 113.319818 852.258273 " clip-path="url(#p4a235cd887)" style="fill: none; stroke: #ababab; stroke-width: 6"/>
<path d="M 176.359091 851.497978 L 176.359091 851.160069 " clip-path="url(#p4a235cd887)" style="fill: none; stroke: #ababab; stroke-width: 6"/>
<path d="M 239.398364 850.653205 L 239.398364 850.315296 " clip-path="url(#p4a235cd887)" style="fill: none; stroke: #ababab; stroke-width: 6"/>
<path d="M 302.437636 809.090395 L 302.437636 804.528623 " clip-path="url(#p4a235cd887)" style="fill: none; stroke: #ababab; stroke-width: 6"/>
<path d="M 365.476909 747.168566 L 365.476909 741.930976 " clip-path="url(#p4a235cd887)" style="fill: none; stroke: #ababab; stroke-width: 6"/>
<path d="M 428.516182 674.813796 L 428.516182 665.098911 " clip-path="url(#p4a235cd887)" style="fill: none; stroke: #ababab; stroke-width: 6"/>
</g>
<g id="line2d_211">
<g clip-path="url(#p4a235cd887)">
<use href="#ma094b5fcf0" x="113.319818" y="852.596182" style="fill: #ababab; stroke: #ababab; stroke-width: 4"/>
<use href="#ma094b5fcf0" x="176.359091" y="851.497978" style="fill: #ababab; stroke: #ababab; stroke-width: 4"/>
<use href="#ma094b5fcf0" x="239.398364" y="850.653205" style="fill: #ababab; stroke: #ababab; stroke-width: 4"/>
<use href="#ma094b5fcf0" x="302.437636" y="809.090395" style="fill: #ababab; stroke: #ababab; stroke-width: 4"/>
<use href="#ma094b5fcf0" x="365.476909" y="747.168566" style="fill: #ababab; stroke: #ababab; stroke-width: 4"/>
<use href="#ma094b5fcf0" x="428.516182" y="674.813796" style="fill: #ababab; stroke: #ababab; stroke-width: 4"/>
</g>
</g>
<g id="line2d_212">
<g clip-path="url(#p4a235cd887)">
<use href="#ma094b5fcf0" x="113.319818" y="852.258273" style="fill: #ababab; stroke: #ababab; stroke-width: 4"/>
<use href="#ma094b5fcf0" x="176.359091" y="851.160069" style="fill: #ababab; stroke: #ababab; stroke-width: 4"/>
<use href="#ma094b5fcf0" x="239.398364" y="850.315296" style="fill: #ababab; stroke: #ababab; stroke-width: 4"/>
<use href="#ma094b5fcf0" x="302.437636" y="804.528623" style="fill: #ababab; stroke: #ababab; stroke-width: 4"/>
<use href="#ma094b5fcf0" x="365.476909" y="741.930976" style="fill: #ababab; stroke: #ababab; stroke-width: 4"/>
<use href="#ma094b5fcf0" x="428.516182" y="665.098911" style="fill: #ababab; stroke: #ababab; stroke-width: 4"/>
</g>
</g>
<g id="LineCollection_36">
<path d="M 113.319818 853.018568 L 113.319818 852.680659 " clip-path="url(#p4a235cd887)" style="fill: none; stroke: #595959; stroke-width: 6"/>
<path d="M 176.359091 851.920364 L 176.359091 851.582455 " clip-path="url(#p4a235cd887)" style="fill: none; stroke: #595959; stroke-width: 6"/>
<path d="M 239.398364 851.075591 L 239.398364 850.737682 " clip-path="url(#p4a235cd887)" style="fill: none; stroke: #595959; stroke-width: 6"/>
<path d="M 302.437636 806.809509 L 302.437636 799.37551 " clip-path="url(#p4a235cd887)" style="fill: none; stroke: #595959; stroke-width: 6"/>
<path d="M 365.476909 742.353362 L 365.476909 735.595182 " clip-path="url(#p4a235cd887)" style="fill: none; stroke: #595959; stroke-width: 6"/>
<path d="M 428.516182 670.294262 L 428.516182 661.339673 " clip-path="url(#p4a235cd887)" style="fill: none; stroke: #595959; stroke-width: 6"/>
</g>
<g id="line2d_213">
<g clip-path="url(#p4a235cd887)">
<use href="#mc23e0b839d" x="113.319818" y="853.018568" style="fill: #595959; stroke: #595959; stroke-width: 4"/>
<use href="#mc23e0b839d" x="176.359091" y="851.920364" style="fill: #595959; stroke: #595959; stroke-width: 4"/>
<use href="#mc23e0b839d" x="239.398364" y="851.075591" style="fill: #595959; stroke: #595959; stroke-width: 4"/>
<use href="#mc23e0b839d" x="302.437636" y="806.809509" style="fill: #595959; stroke: #595959; stroke-width: 4"/>
<use href="#mc23e0b839d" x="365.476909" y="742.353362" style="fill: #595959; stroke: #595959; stroke-width: 4"/>
<use href="#mc23e0b839d" x="428.516182" y="670.294262" style="fill: #595959; stroke: #595959; stroke-width: 4"/>
</g>
</g>
<g id="line2d_214">
<g clip-path="url(#p4a235cd887)">
<use href="#mc23e0b839d" x="113.319818" y="852.680659" style="fill: #595959; stroke: #595959; stroke-width: 4"/>
<use href="#mc23e0b839d" x="176.359091" y="851.582455" style="fill: #595959; stroke: #595959; stroke-width: 4"/>
<use href="#mc23e0b839d" x="239.398364" y="850.737682" style="fill: #595959; stroke: #595959; stroke-width: 4"/>
<use href="#mc23e0b839d" x="302.437636" y="799.37551" style="fill: #595959; stroke: #595959; stroke-width: 4"/>
<use href="#mc23e0b839d" x="365.476909" y="735.595182" style="fill: #595959; stroke: #595959; stroke-width: 4"/>
<use href="#mc23e0b839d" x="428.516182" y="661.339673" style="fill: #595959; stroke: #595959; stroke-width: 4"/>
</g>
</g>
<g id="line2d_215">
<path d="M 113.319818 851.11783 L 176.359091 849.580344 L 239.398364 848.03441 L 302.437636 804.6131 L 365.476909 737.453681 L 428.516182 654.834925 " clip-path="url(#p4a235cd887)" style="fill: none; stroke: #006ba4; stroke-width: 6; stroke-linecap: square"/>
</g>
<g id="line2d_216">
<path d="M 113.319818 852.427227 L 176.359091 851.329023 L 239.398364 850.484251 L 302.437636 809.090395 L 365.476909 744.88768 L 428.516182 672.490671 " clip-path="url(#p4a235cd887)" style="fill: none; stroke-dasharray: 22.2,9.6; stroke-dashoffset: 0; stroke: #ff800e; stroke-width: 6"/>
</g>
<g id="line2d_217">
<path d="M 113.319818 852.427227 L 176.359091 851.329023 L 239.398364 850.484251 L 302.437636 806.809509 L 365.476909 744.549771 L 428.516182 669.956353 " clip-path="url(#p4a235cd887)" style="fill: none; stroke-dasharray: 38.4,9.6,6,9.6; stroke-dashoffset: 0; stroke: #ababab; stroke-width: 6"/>
</g>
<g id="line2d_218">
<path d="M 113.319818 852.849614 L 176.359091 851.751409 L 239.398364 850.906637 L 302.437636 803.09251 L 365.476909 738.974272 L 428.516182 665.816968 " clip-path="url(#p4a235cd887)" style="fill: none; stroke-dasharray: 6,9.9; stroke-dashoffset: 0; stroke: #595959; stroke-width: 6"/>
</g>
<g id="patch_45">
<path d="M 97.56 853.272 L 97.56 640.44 " style="fill: none; stroke: #000000; stroke-width: 0.8; stroke-linejoin: miter; stroke-linecap: square"/>
</g>
<g id="patch_46">
<path d="M 444.276 853.272 L 444.276 640.44 " style="fill: none; stroke: #000000; stroke-width: 0.8; stroke-linejoin: miter; stroke-linecap: square"/>
</g>
<g id="patch_47">
<path d="M 97.56 853.272 L 444.276 853.272 " style="fill: none; stroke: #000000; stroke-width: 0.8; stroke-linejoin: miter; stroke-linecap: square"/>
</g>
<g id="patch_48">
<path d="M 97.56 640.44 L 444.276 640.44 " style="fill: none; stroke: #000000; stroke-width: 0.8; stroke-linejoin: miter; stroke-linecap: square"/>
</g>
<g id="text_101">
<text style='font-size: 24.274px; font-family: "Liberation Sans", sans-serif; text-anchor: middle' x="270.918" y="634.8000" transform="rotate(-0 270.918 634.44)" textLength="210.448" lengthAdjust="spacingAndGlyphs">Prefill-heavy, TTFT</text>
</g>
<g id="legend_5">
<g id="patch_49">
<path d="M 110.86 767.19375 L 259.410312 767.19375 Q 263.210312 767.19375 263.210312 763.39375 L 263.210312 653.74 Q 263.210312 649.94 259.410312 649.94 L 110.86 649.94 Q 107.06 649.94 107.06 653.74 L 107.06 763.39375 Q 107.06 767.19375 110.86 767.19375 z
" style="fill: #ffffff; opacity: 0.5; stroke: #cccccc; stroke-linejoin: miter"/>
</g>
<g id="LineCollection_37">
<path d="M 133.66 674.827031 L 133.66 655.827031 " style="fill: none; stroke: #006ba4; stroke-width: 6"/>
</g>
<g id="line2d_219">
<g>
<use href="#m3b97e9b83c" x="133.66" y="674.827031" style="fill: #006ba4; stroke: #006ba4; stroke-width: 4"/>
</g>
</g>
<g id="line2d_220">
<g>
<use href="#m3b97e9b83c" x="133.66" y="655.827031" style="fill: #006ba4; stroke: #006ba4; stroke-width: 4"/>
</g>
</g>
<g id="line2d_221">
<path d="M 114.66 665.327031 L 152.66 665.327031 " style="fill: none; stroke: #006ba4; stroke-width: 6; stroke-linecap: square"/>
</g>
<g id="line2d_222"/>
<g id="text_102">
<text style='font-size: 20.140px; font-family: "Liberation Sans", sans-serif; text-anchor: start' x="167.86" y="672.3370" transform="rotate(-0 167.86 671.977031)" textLength="48.797" lengthAdjust="spacingAndGlyphs">vLLM</text>
</g>
<g id="LineCollection_38">
<path d="M 133.66 702.715469 L 133.66 683.715469 " style="fill: none; stroke: #ff800e; stroke-width: 6"/>
</g>
<g id="line2d_223">
<g>
<use href="#m7228e9b4b5" x="133.66" y="702.715469" style="fill: #ff800e; stroke: #ff800e; stroke-width: 4"/>
</g>
</g>
<g id="line2d_224">
<g>
<use href="#m7228e9b4b5" x="133.66" y="683.715469" style="fill: #ff800e; stroke: #ff800e; stroke-width: 4"/>
</g>
</g>
<g id="line2d_225">
<path d="M 114.66 693.215469 L 152.66 693.215469 " style="fill: none; stroke-dasharray: 22.2,9.6; stroke-dashoffset: 0; stroke: #ff800e; stroke-width: 6"/>
</g>
<g id="line2d_226"/>
<g id="text_103">
<text style='font-size: 20.140px; font-family: "Liberation Sans", sans-serif; text-anchor: start' x="167.86" y="700.2255" transform="rotate(-0 167.86 699.865469)" textLength="73.103" lengthAdjust="spacingAndGlyphs">SGLang</text>
</g>
<g id="LineCollection_39">
<path d="M 133.66 730.603906 L 133.66 711.603906 " style="fill: none; stroke: #ababab; stroke-width: 6"/>
</g>
<g id="line2d_227">
<g>
<use href="#ma094b5fcf0" x="133.66" y="730.603906" style="fill: #ababab; stroke: #ababab; stroke-width: 4"/>
</g>
</g>
<g id="line2d_228">
<g>
<use href="#ma094b5fcf0" x="133.66" y="711.603906" style="fill: #ababab; stroke: #ababab; stroke-width: 4"/>
</g>
</g>
<g id="line2d_229">
<path d="M 114.66 721.103906 L 152.66 721.103906 " style="fill: none; stroke-dasharray: 38.4,9.6,6,9.6; stroke-dashoffset: 0; stroke: #ababab; stroke-width: 6"/>
</g>
<g id="line2d_230"/>
<g id="text_104">
<text style='font-size: 20.140px; font-family: "Liberation Sans", sans-serif; text-anchor: start' x="167.86" y="728.1139" transform="rotate(-0 167.86 727.753906)" textLength="87.728" lengthAdjust="spacingAndGlyphs">lmdeploy</text>
</g>
<g id="LineCollection_40">
<path d="M 133.66 758.492344 L 133.66 739.492344 " style="fill: none; stroke: #595959; stroke-width: 6"/>
</g>
<g id="line2d_231">
<g>
<use href="#mc23e0b839d" x="133.66" y="758.492344" style="fill: #595959; stroke: #595959; stroke-width: 4"/>
</g>
</g>
<g id="line2d_232">
<g>
<use href="#mc23e0b839d" x="133.66" y="739.492344" style="fill: #595959; stroke: #595959; stroke-width: 4"/>
</g>
</g>
<g id="line2d_233">
<path d="M 114.66 748.992344 L 152.66 748.992344 " style="fill: none; stroke-dasharray: 6,9.9; stroke-dashoffset: 0; stroke: #595959; stroke-width: 6"/>
</g>
<g id="line2d_234"/>
<g id="text_105">
<text style='font-size: 20.140px; font-family: "Liberation Sans", sans-serif; text-anchor: start' x="167.86" y="756.0023" transform="rotate(-0 167.86 755.642344)" textLength="77.693" lengthAdjust="spacingAndGlyphs">TRT-LLM</text>
</g>
</g>
</g>
<g id="axes_8">
<g id="patch_50">
<path d="M 542.52 853.272 L 889.236 853.272 L 889.236 640.44 L 542.52 640.44 z
" style="fill: #ffffff"/>
</g>
<g id="matplotlib.axis_15">
<g id="xtick_39">
<g id="line2d_235">
<g>
<use href="#m877f683ac1" x="558.279818" y="853.272" style="stroke: #000000; stroke-width: 0.8"/>
</g>
</g>
<g id="text_106">
<text style='font-size: 20.710px; font-family: "Liberation Sans", sans-serif; text-anchor: middle' x="558.279818" y="875.0690" transform="rotate(-0 558.279818 874.709031)" textLength="12.088" lengthAdjust="spacingAndGlyphs">2</text>
</g>
</g>
<g id="xtick_40">
<g id="line2d_236">
<g>
<use href="#m877f683ac1" x="621.319091" y="853.272" style="stroke: #000000; stroke-width: 0.8"/>
</g>
</g>
<g id="text_107">
<text style='font-size: 20.710px; font-family: "Liberation Sans", sans-serif; text-anchor: middle' x="621.319091" y="875.0690" transform="rotate(-0 621.319091 874.709031)" textLength="12.088" lengthAdjust="spacingAndGlyphs">4</text>
</g>
</g>
<g id="xtick_41">
<g id="line2d_237">
<g>
<use href="#m877f683ac1" x="684.358364" y="853.272" style="stroke: #000000; stroke-width: 0.8"/>
</g>
</g>
<g id="text_108">
<text style='font-size: 20.710px; font-family: "Liberation Sans", sans-serif; text-anchor: middle' x="684.358364" y="875.0690" transform="rotate(-0 684.358364 874.709031)" textLength="12.088" lengthAdjust="spacingAndGlyphs">8</text>
</g>
</g>
<g id="xtick_42">
<g id="line2d_238">
<g>
<use href="#m877f683ac1" x="747.397636" y="853.272" style="stroke: #000000; stroke-width: 0.8"/>
</g>
</g>
<g id="text_109">
<text style='font-size: 20.710px; font-family: "Liberation Sans", sans-serif; text-anchor: middle' x="747.397636" y="875.0690" transform="rotate(-0 747.397636 874.709031)" textLength="24.176" lengthAdjust="spacingAndGlyphs">16</text>
</g>
</g>
<g id="xtick_43">
<g id="line2d_239">
<g>
<use href="#m877f683ac1" x="810.436909" y="853.272" style="stroke: #000000; stroke-width: 0.8"/>
</g>
</g>
<g id="text_110">
<text style='font-size: 20.710px; font-family: "Liberation Sans", sans-serif; text-anchor: middle' x="810.436909" y="875.0690" transform="rotate(-0 810.436909 874.709031)" textLength="24.176" lengthAdjust="spacingAndGlyphs">32</text>
</g>
</g>
<g id="xtick_44">
<g id="line2d_240">
<g>
<use href="#m877f683ac1" x="873.476182" y="853.272" style="stroke: #000000; stroke-width: 0.8"/>
</g>
</g>
<g id="text_111">
<text style='font-size: 20.140px; font-family: "Liberation Sans", sans-serif; text-anchor: middle' x="873.476182" y="875.0690" transform="rotate(-0 873.476182 874.709031)" textLength="24.008" lengthAdjust="spacingAndGlyphs">inf</text>
</g>
</g>
<g id="text_112">
<text style='font-size: 20.140px; font-family: "Liberation Sans", sans-serif; text-anchor: middle' x="715.878" y="897.4575" transform="rotate(-0 715.878 897.097469)" textLength="38.469" lengthAdjust="spacingAndGlyphs">QPS</text>
</g>
</g>
<g id="matplotlib.axis_16">
<g id="ytick_29">
<g id="line2d_241">
<path d="M 542.52 853.272 L 889.236 853.272 " clip-path="url(#pfd6df8aa6c)" style="fill: none; stroke: #b0b0b0; stroke-width: 0.8; stroke-linecap: square"/>
</g>
<g id="line2d_242">
<g>
<use href="#m7abbb79476" x="542.52" y="853.272" style="stroke: #000000; stroke-width: 0.8"/>
</g>
</g>
<g id="text_113">
<text style='font-size: 20.710px; font-family: "Liberation Sans", sans-serif; text-anchor: end' x="535.52" y="860.8505" transform="rotate(-0 535.52 860.490516)" textLength="12.088" lengthAdjust="spacingAndGlyphs">0</text>
</g>
</g>
<g id="ytick_30">
<g id="line2d_243">
<path d="M 542.52 783.719059 L 889.236 783.719059 " clip-path="url(#pfd6df8aa6c)" style="fill: none; stroke: #b0b0b0; stroke-width: 0.8; stroke-linecap: square"/>
</g>
<g id="line2d_244">
<g>
<use href="#m7abbb79476" x="542.52" y="783.719059" style="stroke: #000000; stroke-width: 0.8"/>
</g>
</g>
<g id="text_114">
<text style='font-size: 20.710px; font-family: "Liberation Sans", sans-serif; text-anchor: end' x="535.52" y="791.2976" transform="rotate(-0 535.52 790.937574)" textLength="36.259" lengthAdjust="spacingAndGlyphs">500</text>
</g>
</g>
<g id="ytick_31">
<g id="line2d_245">
<path d="M 542.52 714.166118 L 889.236 714.166118 " clip-path="url(#pfd6df8aa6c)" style="fill: none; stroke: #b0b0b0; stroke-width: 0.8; stroke-linecap: square"/>
</g>
<g id="line2d_246">
<g>
<use href="#m7abbb79476" x="542.52" y="714.166118" style="stroke: #000000; stroke-width: 0.8"/>
</g>
</g>
<g id="text_115">
<text style='font-size: 20.710px; font-family: "Liberation Sans", sans-serif; text-anchor: end' x="535.52" y="721.7446" transform="rotate(-0 535.52 721.384633)" textLength="48.347" lengthAdjust="spacingAndGlyphs">1000</text>
</g>
</g>
<g id="ytick_32">
<g id="line2d_247">
<path d="M 542.52 644.613176 L 889.236 644.613176 " clip-path="url(#pfd6df8aa6c)" style="fill: none; stroke: #b0b0b0; stroke-width: 0.8; stroke-linecap: square"/>
</g>
<g id="line2d_248">
<g>
<use href="#m7abbb79476" x="542.52" y="644.613176" style="stroke: #000000; stroke-width: 0.8"/>
</g>
</g>
<g id="text_116">
<text style='font-size: 20.710px; font-family: "Liberation Sans", sans-serif; text-anchor: end' x="535.52" y="652.1917" transform="rotate(-0 535.52 651.831692)" textLength="48.347" lengthAdjust="spacingAndGlyphs">1500</text>
</g>
</g>
<g id="text_117">
<text style='font-size: 20.140px; font-family: "Liberation Sans", sans-serif; text-anchor: middle' x="479.213594" y="746.856" transform="rotate(-90 479.213594 746.856)" textLength="98.876" lengthAdjust="spacingAndGlyphs">TPOT (ms)</text>
</g>
</g>
<g id="LineCollection_41">
<path d="M 558.279818 846.734024 L 558.279818 846.1776 " clip-path="url(#pfd6df8aa6c)" style="fill: none; stroke: #006ba4; stroke-width: 6"/>
<path d="M 621.319091 844.647435 L 621.319091 843.8128 " clip-path="url(#pfd6df8aa6c)" style="fill: none; stroke: #006ba4; stroke-width: 6"/>
<path d="M 684.358364 833.658071 L 684.358364 832.267012 " clip-path="url(#pfd6df8aa6c)" style="fill: none; stroke: #006ba4; stroke-width: 6"/>
<path d="M 747.397636 662.836047 L 747.397636 653.098635 " clip-path="url(#pfd6df8aa6c)" style="fill: none; stroke: #006ba4; stroke-width: 6"/>
<path d="M 810.436909 668.678494 L 810.436909 656.158965 " clip-path="url(#pfd6df8aa6c)" style="fill: none; stroke: #006ba4; stroke-width: 6"/>
<path d="M 873.476182 670.347765 L 873.476182 661.444988 " clip-path="url(#pfd6df8aa6c)" style="fill: none; stroke: #006ba4; stroke-width: 6"/>
</g>
<g id="line2d_249">
<g clip-path="url(#pfd6df8aa6c)">
<use href="#m3b97e9b83c" x="558.279818" y="846.734024" style="fill: #006ba4; stroke: #006ba4; stroke-width: 4"/>
<use href="#m3b97e9b83c" x="621.319091" y="844.647435" style="fill: #006ba4; stroke: #006ba4; stroke-width: 4"/>
<use href="#m3b97e9b83c" x="684.358364" y="833.658071" style="fill: #006ba4; stroke: #006ba4; stroke-width: 4"/>
<use href="#m3b97e9b83c" x="747.397636" y="662.836047" style="fill: #006ba4; stroke: #006ba4; stroke-width: 4"/>
<use href="#m3b97e9b83c" x="810.436909" y="668.678494" style="fill: #006ba4; stroke: #006ba4; stroke-width: 4"/>
<use href="#m3b97e9b83c" x="873.476182" y="670.347765" style="fill: #006ba4; stroke: #006ba4; stroke-width: 4"/>
</g>
</g>
<g id="line2d_250">
<g clip-path="url(#pfd6df8aa6c)">
<use href="#m3b97e9b83c" x="558.279818" y="846.1776" style="fill: #006ba4; stroke: #006ba4; stroke-width: 4"/>
<use href="#m3b97e9b83c" x="621.319091" y="843.8128" style="fill: #006ba4; stroke: #006ba4; stroke-width: 4"/>
<use href="#m3b97e9b83c" x="684.358364" y="832.267012" style="fill: #006ba4; stroke: #006ba4; stroke-width: 4"/>
<use href="#m3b97e9b83c" x="747.397636" y="653.098635" style="fill: #006ba4; stroke: #006ba4; stroke-width: 4"/>
<use href="#m3b97e9b83c" x="810.436909" y="656.158965" style="fill: #006ba4; stroke: #006ba4; stroke-width: 4"/>
<use href="#m3b97e9b83c" x="873.476182" y="661.444988" style="fill: #006ba4; stroke: #006ba4; stroke-width: 4"/>
</g>
</g>
<g id="LineCollection_42">
<path d="M 558.279818 846.734024 L 558.279818 846.1776 " clip-path="url(#pfd6df8aa6c)" style="fill: none; stroke: #ff800e; stroke-width: 6"/>
<path d="M 621.319091 843.8128 L 621.319091 842.978165 " clip-path="url(#pfd6df8aa6c)" style="fill: none; stroke: #ff800e; stroke-width: 6"/>
<path d="M 684.358364 829.484894 L 684.358364 826.146353 " clip-path="url(#pfd6df8aa6c)" style="fill: none; stroke: #ff800e; stroke-width: 6"/>
<path d="M 747.397636 660.053929 L 747.397636 650.594729 " clip-path="url(#pfd6df8aa6c)" style="fill: none; stroke: #ff800e; stroke-width: 6"/>
<path d="M 810.436909 659.914824 L 810.436909 652.403106 " clip-path="url(#pfd6df8aa6c)" style="fill: none; stroke: #ff800e; stroke-width: 6"/>
<path d="M 873.476182 662.418729 L 873.476182 652.681318 " clip-path="url(#pfd6df8aa6c)" style="fill: none; stroke: #ff800e; stroke-width: 6"/>
</g>
<g id="line2d_251">
<g clip-path="url(#pfd6df8aa6c)">
<use href="#m7228e9b4b5" x="558.279818" y="846.734024" style="fill: #ff800e; stroke: #ff800e; stroke-width: 4"/>
<use href="#m7228e9b4b5" x="621.319091" y="843.8128" style="fill: #ff800e; stroke: #ff800e; stroke-width: 4"/>
<use href="#m7228e9b4b5" x="684.358364" y="829.484894" style="fill: #ff800e; stroke: #ff800e; stroke-width: 4"/>
<use href="#m7228e9b4b5" x="747.397636" y="660.053929" style="fill: #ff800e; stroke: #ff800e; stroke-width: 4"/>
<use href="#m7228e9b4b5" x="810.436909" y="659.914824" style="fill: #ff800e; stroke: #ff800e; stroke-width: 4"/>
<use href="#m7228e9b4b5" x="873.476182" y="662.418729" style="fill: #ff800e; stroke: #ff800e; stroke-width: 4"/>
</g>
</g>
<g id="line2d_252">
<g clip-path="url(#pfd6df8aa6c)">
<use href="#m7228e9b4b5" x="558.279818" y="846.1776" style="fill: #ff800e; stroke: #ff800e; stroke-width: 4"/>
<use href="#m7228e9b4b5" x="621.319091" y="842.978165" style="fill: #ff800e; stroke: #ff800e; stroke-width: 4"/>
<use href="#m7228e9b4b5" x="684.358364" y="826.146353" style="fill: #ff800e; stroke: #ff800e; stroke-width: 4"/>
<use href="#m7228e9b4b5" x="747.397636" y="650.594729" style="fill: #ff800e; stroke: #ff800e; stroke-width: 4"/>
<use href="#m7228e9b4b5" x="810.436909" y="652.403106" style="fill: #ff800e; stroke: #ff800e; stroke-width: 4"/>
<use href="#m7228e9b4b5" x="873.476182" y="652.681318" style="fill: #ff800e; stroke: #ff800e; stroke-width: 4"/>
</g>
</g>
<g id="LineCollection_43">
<path d="M 558.279818 847.985976 L 558.279818 847.707765 " clip-path="url(#pfd6df8aa6c)" style="fill: none; stroke: #ababab; stroke-width: 6"/>
<path d="M 621.319091 847.290447 L 621.319091 847.012235 " clip-path="url(#pfd6df8aa6c)" style="fill: none; stroke: #ababab; stroke-width: 6"/>
<path d="M 684.358364 840.335153 L 684.358364 837.553035 " clip-path="url(#pfd6df8aa6c)" style="fill: none; stroke: #ababab; stroke-width: 6"/>
<path d="M 747.397636 786.640282 L 747.397636 785.249224 " clip-path="url(#pfd6df8aa6c)" style="fill: none; stroke: #ababab; stroke-width: 6"/>
<path d="M 810.436909 791.091671 L 810.436909 789.700612 " clip-path="url(#pfd6df8aa6c)" style="fill: none; stroke: #ababab; stroke-width: 6"/>
<path d="M 873.476182 795.543059 L 873.476182 794.152 " clip-path="url(#pfd6df8aa6c)" style="fill: none; stroke: #ababab; stroke-width: 6"/>
</g>
<g id="line2d_253">
<g clip-path="url(#pfd6df8aa6c)">
<use href="#ma094b5fcf0" x="558.279818" y="847.985976" style="fill: #ababab; stroke: #ababab; stroke-width: 4"/>
<use href="#ma094b5fcf0" x="621.319091" y="847.290447" style="fill: #ababab; stroke: #ababab; stroke-width: 4"/>
<use href="#ma094b5fcf0" x="684.358364" y="840.335153" style="fill: #ababab; stroke: #ababab; stroke-width: 4"/>
<use href="#ma094b5fcf0" x="747.397636" y="786.640282" style="fill: #ababab; stroke: #ababab; stroke-width: 4"/>
<use href="#ma094b5fcf0" x="810.436909" y="791.091671" style="fill: #ababab; stroke: #ababab; stroke-width: 4"/>
<use href="#ma094b5fcf0" x="873.476182" y="795.543059" style="fill: #ababab; stroke: #ababab; stroke-width: 4"/>
</g>
</g>
<g id="line2d_254">
<g clip-path="url(#pfd6df8aa6c)">
<use href="#ma094b5fcf0" x="558.279818" y="847.707765" style="fill: #ababab; stroke: #ababab; stroke-width: 4"/>
<use href="#ma094b5fcf0" x="621.319091" y="847.012235" style="fill: #ababab; stroke: #ababab; stroke-width: 4"/>
<use href="#ma094b5fcf0" x="684.358364" y="837.553035" style="fill: #ababab; stroke: #ababab; stroke-width: 4"/>
<use href="#ma094b5fcf0" x="747.397636" y="785.249224" style="fill: #ababab; stroke: #ababab; stroke-width: 4"/>
<use href="#ma094b5fcf0" x="810.436909" y="789.700612" style="fill: #ababab; stroke: #ababab; stroke-width: 4"/>
<use href="#ma094b5fcf0" x="873.476182" y="794.152" style="fill: #ababab; stroke: #ababab; stroke-width: 4"/>
</g>
</g>
<g id="LineCollection_44">
<path d="M 558.279818 847.985976 L 558.279818 847.707765 " clip-path="url(#pfd6df8aa6c)" style="fill: none; stroke: #595959; stroke-width: 6"/>
<path d="M 621.319091 847.290447 L 621.319091 847.012235 " clip-path="url(#pfd6df8aa6c)" style="fill: none; stroke: #595959; stroke-width: 6"/>
<path d="M 684.358364 839.500518 L 684.358364 835.327341 " clip-path="url(#pfd6df8aa6c)" style="fill: none; stroke: #595959; stroke-width: 6"/>
<path d="M 747.397636 675.633788 L 747.397636 665.061741 " clip-path="url(#pfd6df8aa6c)" style="fill: none; stroke: #595959; stroke-width: 6"/>
<path d="M 810.436909 671.738824 L 810.436909 666.731012 " clip-path="url(#pfd6df8aa6c)" style="fill: none; stroke: #595959; stroke-width: 6"/>
<path d="M 873.476182 671.738824 L 873.476182 662.001412 " clip-path="url(#pfd6df8aa6c)" style="fill: none; stroke: #595959; stroke-width: 6"/>
</g>
<g id="line2d_255">
<g clip-path="url(#pfd6df8aa6c)">
<use href="#mc23e0b839d" x="558.279818" y="847.985976" style="fill: #595959; stroke: #595959; stroke-width: 4"/>
<use href="#mc23e0b839d" x="621.319091" y="847.290447" style="fill: #595959; stroke: #595959; stroke-width: 4"/>
<use href="#mc23e0b839d" x="684.358364" y="839.500518" style="fill: #595959; stroke: #595959; stroke-width: 4"/>
<use href="#mc23e0b839d" x="747.397636" y="675.633788" style="fill: #595959; stroke: #595959; stroke-width: 4"/>
<use href="#mc23e0b839d" x="810.436909" y="671.738824" style="fill: #595959; stroke: #595959; stroke-width: 4"/>
<use href="#mc23e0b839d" x="873.476182" y="671.738824" style="fill: #595959; stroke: #595959; stroke-width: 4"/>
</g>
</g>
<g id="line2d_256">
<g clip-path="url(#pfd6df8aa6c)">
<use href="#mc23e0b839d" x="558.279818" y="847.707765" style="fill: #595959; stroke: #595959; stroke-width: 4"/>
<use href="#mc23e0b839d" x="621.319091" y="847.012235" style="fill: #595959; stroke: #595959; stroke-width: 4"/>
<use href="#mc23e0b839d" x="684.358364" y="835.327341" style="fill: #595959; stroke: #595959; stroke-width: 4"/>
<use href="#mc23e0b839d" x="747.397636" y="665.061741" style="fill: #595959; stroke: #595959; stroke-width: 4"/>
<use href="#mc23e0b839d" x="810.436909" y="666.731012" style="fill: #595959; stroke: #595959; stroke-width: 4"/>
<use href="#mc23e0b839d" x="873.476182" y="662.001412" style="fill: #595959; stroke: #595959; stroke-width: 4"/>
</g>
</g>
<g id="line2d_257">
<path d="M 558.279818 846.455812 L 621.319091 844.230118 L 684.358364 832.962541 L 747.397636 657.967341 L 810.436909 662.418729 L 873.476182 665.896376 " clip-path="url(#pfd6df8aa6c)" style="fill: none; stroke: #006ba4; stroke-width: 6; stroke-linecap: square"/>
</g>
<g id="line2d_258">
<path d="M 558.279818 846.455812 L 621.319091 843.395482 L 684.358364 827.815624 L 747.397636 655.324329 L 810.436909 656.158965 L 873.476182 657.550024 " clip-path="url(#pfd6df8aa6c)" style="fill: none; stroke-dasharray: 22.2,9.6; stroke-dashoffset: 0; stroke: #ff800e; stroke-width: 6"/>
</g>
<g id="line2d_259">
<path d="M 558.279818 847.846871 L 621.319091 847.151341 L 684.358364 838.944094 L 747.397636 785.944753 L 810.436909 790.396141 L 873.476182 794.847529 " clip-path="url(#pfd6df8aa6c)" style="fill: none; stroke-dasharray: 38.4,9.6,6,9.6; stroke-dashoffset: 0; stroke: #ababab; stroke-width: 6"/>
</g>
<g id="line2d_260">
<path d="M 558.279818 847.846871 L 621.319091 847.151341 L 684.358364 837.413929 L 747.397636 670.347765 L 810.436909 669.234918 L 873.476182 666.870118 " clip-path="url(#pfd6df8aa6c)" style="fill: none; stroke-dasharray: 6,9.9; stroke-dashoffset: 0; stroke: #595959; stroke-width: 6"/>
</g>
<g id="patch_51">
<path d="M 542.52 853.272 L 542.52 640.44 " style="fill: none; stroke: #000000; stroke-width: 0.8; stroke-linejoin: miter; stroke-linecap: square"/>
</g>
<g id="patch_52">
<path d="M 889.236 853.272 L 889.236 640.44 " style="fill: none; stroke: #000000; stroke-width: 0.8; stroke-linejoin: miter; stroke-linecap: square"/>
</g>
<g id="patch_53">
<path d="M 542.52 853.272 L 889.236 853.272 " style="fill: none; stroke: #000000; stroke-width: 0.8; stroke-linejoin: miter; stroke-linecap: square"/>
</g>
<g id="patch_54">
<path d="M 542.52 640.44 L 889.236 640.44 " style="fill: none; stroke: #000000; stroke-width: 0.8; stroke-linejoin: miter; stroke-linecap: square"/>
</g>
<g id="text_118">
<text style='font-size: 24.274px; font-family: "Liberation Sans", sans-serif; text-anchor: middle' x="715.878" y="634.8000" transform="rotate(-0 715.878 634.44)" textLength="215.927" lengthAdjust="spacingAndGlyphs">Prefill-heavy, TPOT</text>
</g>
<g id="legend_6">
<g id="patch_55">
<path d="M 555.82 767.19375 L 704.370313 767.19375 Q 708.170313 767.19375 708.170313 763.39375 L 708.170313 653.74 Q 708.170313 649.94 704.370313 649.94 L 555.82 649.94 Q 552.02 649.94 552.02 653.74 L 552.02 763.39375 Q 552.02 767.19375 555.82 767.19375 z
" style="fill: #ffffff; opacity: 0.5; stroke: #cccccc; stroke-linejoin: miter"/>
</g>
<g id="LineCollection_45">
<path d="M 578.62 674.827031 L 578.62 655.827031 " style="fill: none; stroke: #006ba4; stroke-width: 6"/>
</g>
<g id="line2d_261">
<g>
<use href="#m3b97e9b83c" x="578.62" y="674.827031" style="fill: #006ba4; stroke: #006ba4; stroke-width: 4"/>
</g>
</g>
<g id="line2d_262">
<g>
<use href="#m3b97e9b83c" x="578.62" y="655.827031" style="fill: #006ba4; stroke: #006ba4; stroke-width: 4"/>
</g>
</g>
<g id="line2d_263">
<path d="M 559.62 665.327031 L 597.62 665.327031 " style="fill: none; stroke: #006ba4; stroke-width: 6; stroke-linecap: square"/>
</g>
<g id="line2d_264"/>
<g id="text_119">
<text style='font-size: 20.140px; font-family: "Liberation Sans", sans-serif; text-anchor: start' x="612.82" y="672.3370" transform="rotate(-0 612.82 671.977031)" textLength="48.797" lengthAdjust="spacingAndGlyphs">vLLM</text>
</g>
<g id="LineCollection_46">
<path d="M 578.62 702.715469 L 578.62 683.715469 " style="fill: none; stroke: #ff800e; stroke-width: 6"/>
</g>
<g id="line2d_265">
<g>
<use href="#m7228e9b4b5" x="578.62" y="702.715469" style="fill: #ff800e; stroke: #ff800e; stroke-width: 4"/>
</g>
</g>
<g id="line2d_266">
<g>
<use href="#m7228e9b4b5" x="578.62" y="683.715469" style="fill: #ff800e; stroke: #ff800e; stroke-width: 4"/>
</g>
</g>
<g id="line2d_267">
<path d="M 559.62 693.215469 L 597.62 693.215469 " style="fill: none; stroke-dasharray: 22.2,9.6; stroke-dashoffset: 0; stroke: #ff800e; stroke-width: 6"/>
</g>
<g id="line2d_268"/>
<g id="text_120">
<text style='font-size: 20.140px; font-family: "Liberation Sans", sans-serif; text-anchor: start' x="612.82" y="700.2255" transform="rotate(-0 612.82 699.865469)" textLength="73.103" lengthAdjust="spacingAndGlyphs">SGLang</text>
</g>
<g id="LineCollection_47">
<path d="M 578.62 730.603906 L 578.62 711.603906 " style="fill: none; stroke: #ababab; stroke-width: 6"/>
</g>
<g id="line2d_269">
<g>
<use href="#ma094b5fcf0" x="578.62" y="730.603906" style="fill: #ababab; stroke: #ababab; stroke-width: 4"/>
</g>
</g>
<g id="line2d_270">
<g>
<use href="#ma094b5fcf0" x="578.62" y="711.603906" style="fill: #ababab; stroke: #ababab; stroke-width: 4"/>
</g>
</g>
<g id="line2d_271">
<path d="M 559.62 721.103906 L 597.62 721.103906 " style="fill: none; stroke-dasharray: 38.4,9.6,6,9.6; stroke-dashoffset: 0; stroke: #ababab; stroke-width: 6"/>
</g>
<g id="line2d_272"/>
<g id="text_121">
<text style='font-size: 20.140px; font-family: "Liberation Sans", sans-serif; text-anchor: start' x="612.82" y="728.1139" transform="rotate(-0 612.82 727.753906)" textLength="87.728" lengthAdjust="spacingAndGlyphs">lmdeploy</text>
</g>
<g id="LineCollection_48">
<path d="M 578.62 758.492344 L 578.62 739.492344 " style="fill: none; stroke: #595959; stroke-width: 6"/>
</g>
<g id="line2d_273">
<g>
<use href="#mc23e0b839d" x="578.62" y="758.492344" style="fill: #595959; stroke: #595959; stroke-width: 4"/>
</g>
</g>
<g id="line2d_274">
<g>
<use href="#mc23e0b839d" x="578.62" y="739.492344" style="fill: #595959; stroke: #595959; stroke-width: 4"/>
</g>
</g>
<g id="line2d_275">
<path d="M 559.62 748.992344 L 597.62 748.992344 " style="fill: none; stroke-dasharray: 6,9.9; stroke-dashoffset: 0; stroke: #595959; stroke-width: 6"/>
</g>
<g id="line2d_276"/>
<g id="text_122">
<text style='font-size: 20.140px; font-family: "Liberation Sans", sans-serif; text-anchor: start' x="612.82" y="756.0023" transform="rotate(-0 612.82 755.642344)" textLength="77.693" lengthAdjust="spacingAndGlyphs">TRT-LLM</text>
</g>
</g>
</g>
<g id="axes_9">
<g id="patch_56">
<path d="M 987.84 853.272 L 1334.556 853.272 L 1334.556 640.44 L 987.84 640.44 z
" style="fill: #ffffff"/>
</g>
<g id="patch_57">
<path d="M 1003.599818 853.272 L 1069.956947 853.272 L 1069.956947 658.92823 L 1003.599818 658.92823 z
" clip-path="url(#p62287c43a2)" style="fill: #006ba4"/>
</g>
<g id="patch_58">
<path d="M 1086.54623 853.272 L 1152.903359 853.272 L 1152.903359 652.961535 L 1086.54623 652.961535 z
" clip-path="url(#p62287c43a2)" style="fill: #ff800e"/>
</g>
<g id="patch_59">
<path d="M 1169.492641 853.272 L 1235.84977 853.272 L 1235.84977 650.574857 L 1169.492641 650.574857 z
" clip-path="url(#p62287c43a2)" style="fill: #ababab"/>
</g>
<g id="patch_60">
<path d="M 1252.439053 853.272 L 1318.796182 853.272 L 1318.796182 654.154874 L 1252.439053 654.154874 z
" clip-path="url(#p62287c43a2)" style="fill: #595959"/>
</g>
<g id="matplotlib.axis_17">
<g id="xtick_45">
<g id="line2d_277">
<g>
<use href="#m877f683ac1" x="1036.778383" y="853.272" style="stroke: #000000; stroke-width: 0.8"/>
</g>
</g>
<g id="text_123">
<text style='font-size: 20.140px; font-family: "Liberation Sans", sans-serif; text-anchor: middle' x="1036.778383" y="875.0690" transform="rotate(-0 1036.778383 874.709031)" textLength="48.797" lengthAdjust="spacingAndGlyphs">vLLM</text>
</g>
</g>
<g id="xtick_46">
<g id="line2d_278">
<g>
<use href="#m877f683ac1" x="1119.724794" y="853.272" style="stroke: #000000; stroke-width: 0.8"/>
</g>
</g>
<g id="text_124">
<text style='font-size: 20.140px; font-family: "Liberation Sans", sans-serif; text-anchor: middle' x="1119.724794" y="875.0690" transform="rotate(-0 1119.724794 874.709031)" textLength="73.103" lengthAdjust="spacingAndGlyphs">SGLang</text>
</g>
</g>
<g id="xtick_47">
<g id="line2d_279">
<g>
<use href="#m877f683ac1" x="1202.671206" y="853.272" style="stroke: #000000; stroke-width: 0.8"/>
</g>
</g>
<g id="text_125">
<text style='font-size: 20.140px; font-family: "Liberation Sans", sans-serif; text-anchor: middle' x="1202.671206" y="875.0690" transform="rotate(-0 1202.671206 874.709031)" textLength="87.728" lengthAdjust="spacingAndGlyphs">lmdeploy</text>
</g>
</g>
<g id="xtick_48">
<g id="line2d_280">
<g>
<use href="#m877f683ac1" x="1285.617617" y="853.272" style="stroke: #000000; stroke-width: 0.8"/>
</g>
</g>
<g id="text_126">
<text style='font-size: 20.140px; font-family: "Liberation Sans", sans-serif; text-anchor: middle' x="1285.617617" y="875.0690" transform="rotate(-0 1285.617617 874.709031)" textLength="77.693" lengthAdjust="spacingAndGlyphs">TRT-LLM</text>
</g>
</g>
</g>
<g id="matplotlib.axis_18">
<g id="ytick_33">
<g id="line2d_281">
<path d="M 987.84 853.272 L 1334.556 853.272 " clip-path="url(#p62287c43a2)" style="fill: none; stroke: #b0b0b0; stroke-width: 0.8; stroke-linecap: square"/>
</g>
<g id="line2d_282">
<g>
<use href="#m7abbb79476" x="987.84" y="853.272" style="stroke: #000000; stroke-width: 0.8"/>
</g>
</g>
<g id="text_127">
<text style='font-size: 20.710px; font-family: "Liberation Sans", sans-serif; text-anchor: end' x="980.84" y="860.8505" transform="rotate(-0 980.84 860.490516)" textLength="12.088" lengthAdjust="spacingAndGlyphs">0</text>
</g>
</g>
<g id="ytick_34">
<g id="line2d_283">
<path d="M 987.84 768.033504 L 1334.556 768.033504 " clip-path="url(#p62287c43a2)" style="fill: none; stroke: #b0b0b0; stroke-width: 0.8; stroke-linecap: square"/>
</g>
<g id="line2d_284">
<g>
<use href="#m7abbb79476" x="987.84" y="768.033504" style="stroke: #000000; stroke-width: 0.8"/>
</g>
</g>
<g id="text_128">
<text style='font-size: 20.710px; font-family: "Liberation Sans", sans-serif; text-anchor: end' x="980.84" y="775.6120" transform="rotate(-0 980.84 775.25202)" textLength="12.088" lengthAdjust="spacingAndGlyphs">5</text>
</g>
</g>
<g id="ytick_35">
<g id="line2d_285">
<path d="M 987.84 682.795009 L 1334.556 682.795009 " clip-path="url(#p62287c43a2)" style="fill: none; stroke: #b0b0b0; stroke-width: 0.8; stroke-linecap: square"/>
</g>
<g id="line2d_286">
<g>
<use href="#m7abbb79476" x="987.84" y="682.795009" style="stroke: #000000; stroke-width: 0.8"/>
</g>
</g>
<g id="text_129">
<text style='font-size: 20.710px; font-family: "Liberation Sans", sans-serif; text-anchor: end' x="980.84" y="690.3735" transform="rotate(-0 980.84 690.013524)" textLength="24.176" lengthAdjust="spacingAndGlyphs">10</text>
</g>
</g>
<g id="text_130">
<text style='font-size: 20.140px; font-family: "Liberation Sans", sans-serif; text-anchor: middle' x="948.711094" y="746.856" transform="rotate(-90 948.711094 746.856)" textLength="171.242" lengthAdjust="spacingAndGlyphs">Thoughput (req/s)</text>
</g>
</g>
<g id="patch_61">
<path d="M 987.84 853.272 L 987.84 640.44 " style="fill: none; stroke: #000000; stroke-width: 0.8; stroke-linejoin: miter; stroke-linecap: square"/>
</g>
<g id="patch_62">
<path d="M 1334.556 853.272 L 1334.556 640.44 " style="fill: none; stroke: #000000; stroke-width: 0.8; stroke-linejoin: miter; stroke-linecap: square"/>
</g>
<g id="patch_63">
<path d="M 987.84 853.272 L 1334.556 853.272 " style="fill: none; stroke: #000000; stroke-width: 0.8; stroke-linejoin: miter; stroke-linecap: square"/>
</g>
<g id="patch_64">
<path d="M 987.84 640.44 L 1334.556 640.44 " style="fill: none; stroke: #000000; stroke-width: 0.8; stroke-linejoin: miter; stroke-linecap: square"/>
</g>
<g id="text_131">
<text style='font-size: 24.274px; font-family: "Liberation Sans", sans-serif; text-anchor: middle' x="1161.198" y="634.8000" transform="rotate(-0 1161.198 634.44)" textLength="289.131" lengthAdjust="spacingAndGlyphs">Prefill-heavy, Throughput</text>
</g>
</g>
</g>
<defs>
<clipPath id="pd88fbe1b18">
<rect x="97.56" y="30.24" width="346.716" height="212.832"/>
</clipPath>
<clipPath id="pf4002ff233">
<rect x="542.52" y="30.24" width="346.716" height="212.832"/>
</clipPath>
<clipPath id="p49dfbb74af">
<rect x="987.84" y="30.24" width="346.716" height="212.832"/>
</clipPath>
<clipPath id="p72ff483b01">
<rect x="97.56" y="335.16" width="346.716" height="212.832"/>
</clipPath>
<clipPath id="p36aeca05a4">
<rect x="542.52" y="335.16" width="346.716" height="212.832"/>
</clipPath>
<clipPath id="p825a9b53ac">
<rect x="987.84" y="335.16" width="346.716" height="212.832"/>
</clipPath>
<clipPath id="p4a235cd887">
<rect x="97.56" y="640.44" width="346.716" height="212.832"/>
</clipPath>
<clipPath id="pfd6df8aa6c">
<rect x="542.52" y="640.44" width="346.716" height="212.832"/>
</clipPath>
<clipPath id="p62287c43a2">
<rect x="987.84" y="640.44" width="346.716" height="212.832"/>
</clipPath>
</defs>
</svg>
</body></html>
